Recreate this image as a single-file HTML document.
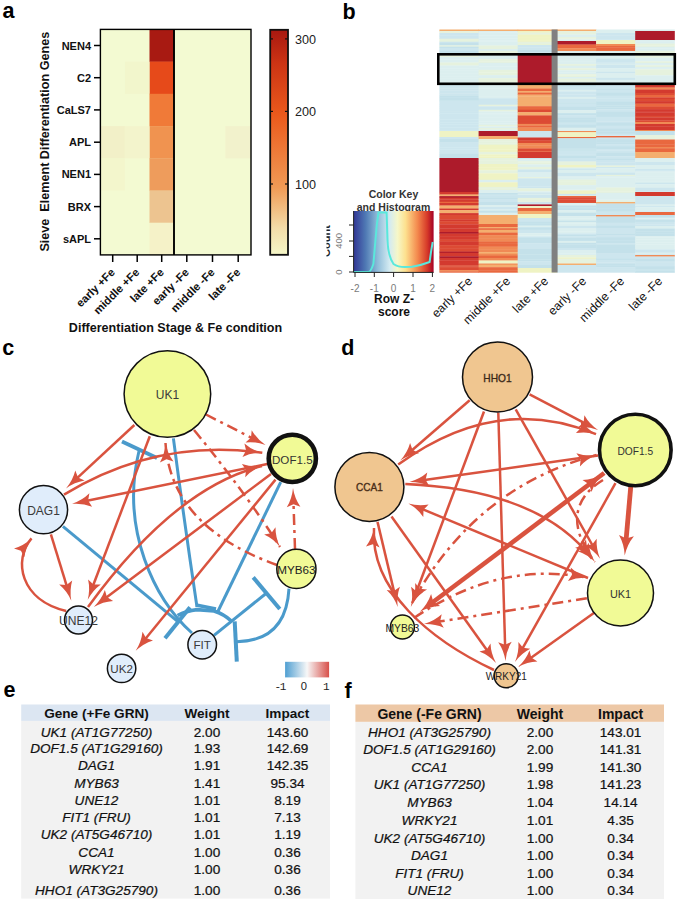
<!DOCTYPE html><html><head><meta charset="utf-8"><style>html,body{margin:0;padding:0;background:#fff;}svg{display:block;}text{font-family:"Liberation Sans",sans-serif;}</style></head><body>
<svg width="685" height="904" viewBox="0 0 685 904">
<defs>
<linearGradient id="cb" x1="0" y1="1" x2="0" y2="0"><stop offset="0" stop-color="#f5f7c8"/><stop offset="0.12" stop-color="#f3dca8"/><stop offset="0.3" stop-color="#f09a55"/><stop offset="0.62" stop-color="#eb5a1c"/><stop offset="0.85" stop-color="#cc3414"/><stop offset="1" stop-color="#a81810"/></linearGradient>
<linearGradient id="zk" x1="0" y1="0" x2="1" y2="0"><stop offset="0" stop-color="#313695"/><stop offset="0.15" stop-color="#4f79b4"/><stop offset="0.3" stop-color="#8fbcd9"/><stop offset="0.45" stop-color="#d4ebf2"/><stop offset="0.55" stop-color="#f6f7c8"/><stop offset="0.65" stop-color="#fde08e"/><stop offset="0.8" stop-color="#f3884d"/><stop offset="0.92" stop-color="#d63a29"/><stop offset="1" stop-color="#a50026"/></linearGradient>
<linearGradient id="lg" x1="0" y1="0" x2="1" y2="0"><stop offset="0" stop-color="#4f9fd2"/><stop offset="0.5" stop-color="#f7f7f7"/><stop offset="1" stop-color="#d8504a"/></linearGradient>
<clipPath id="cntclip"><rect x="326.5" y="200" width="20" height="90"/></clipPath>
</defs>
<text x="2.6" y="17.5" font-size="21.5" font-weight="bold" fill="#000">a</text>
<text x="342.4" y="18.5" font-size="21.5" font-weight="bold" fill="#000">b</text>
<text x="2.2" y="355.3" font-size="21.5" font-weight="bold" fill="#000">c</text>
<text x="341.3" y="354.5" font-size="21.5" font-weight="bold" fill="#000">d</text>
<text x="3.4" y="697" font-size="21.5" font-weight="bold" fill="#000">e</text>
<text x="344.6" y="698" font-size="21.5" font-weight="bold" fill="#000">f</text>
<rect x="100.4" y="29.4" width="150.6" height="225.54" fill="#f3fad2"/>
<rect x="149.5" y="29.4" width="24.8" height="32.5" fill="#a81a12"/>
<rect x="149.5" y="61.6" width="24.8" height="32.5" fill="#e64a1a"/>
<rect x="149.5" y="93.8" width="24.8" height="32.5" fill="#f07a38"/>
<rect x="149.5" y="126.1" width="24.8" height="32.5" fill="#f09350"/>
<rect x="149.5" y="158.3" width="24.8" height="32.5" fill="#ee9c5c"/>
<rect x="149.5" y="190.5" width="24.8" height="32.5" fill="#edc490"/>
<rect x="149.5" y="222.7" width="24.8" height="32.5" fill="#f5f2c8"/>
<rect x="100.4" y="126.1" width="24.5" height="32.2" fill="#f2f0c8"/>
<rect x="124.93" y="126.1" width="24.5" height="32.2" fill="#f3f4cc"/>
<rect x="225.3" y="126.1" width="25.7" height="32.2" fill="#f2f2cc"/>
<rect x="124.93" y="61.6" width="24.5" height="32.2" fill="#f2f6cc"/>
<rect x="100.4" y="158.3" width="24.5" height="32.2" fill="#f3f6cc"/>
<rect x="100.4" y="29.4" width="150.6" height="225.5" fill="none" stroke="#000" stroke-width="1.4"/>
<line x1="174.0" y1="29.4" x2="174.0" y2="254.9" stroke="#000" stroke-width="1.9"/>
<line x1="94" y1="45.5" x2="100.4" y2="45.5" stroke="#000" stroke-width="1.5"/>
<text x="91" y="49.5" font-size="11" font-weight="bold" text-anchor="end" fill="#111">NEN4</text>
<line x1="94" y1="77.7" x2="100.4" y2="77.7" stroke="#000" stroke-width="1.5"/>
<text x="91" y="81.7" font-size="11" font-weight="bold" text-anchor="end" fill="#111">C2</text>
<line x1="94" y1="109.9" x2="100.4" y2="109.9" stroke="#000" stroke-width="1.5"/>
<text x="91" y="113.9" font-size="11" font-weight="bold" text-anchor="end" fill="#111">CaLS7</text>
<line x1="94" y1="142.2" x2="100.4" y2="142.2" stroke="#000" stroke-width="1.5"/>
<text x="91" y="146.2" font-size="11" font-weight="bold" text-anchor="end" fill="#111">APL</text>
<line x1="94" y1="174.4" x2="100.4" y2="174.4" stroke="#000" stroke-width="1.5"/>
<text x="91" y="178.4" font-size="11" font-weight="bold" text-anchor="end" fill="#111">NEN1</text>
<line x1="94" y1="206.6" x2="100.4" y2="206.6" stroke="#000" stroke-width="1.5"/>
<text x="91" y="210.6" font-size="11" font-weight="bold" text-anchor="end" fill="#111">BRX</text>
<line x1="94" y1="238.8" x2="100.4" y2="238.8" stroke="#000" stroke-width="1.5"/>
<text x="91" y="242.8" font-size="11" font-weight="bold" text-anchor="end" fill="#111">sAPL</text>
<line x1="112.7" y1="254.9" x2="112.7" y2="262" stroke="#000" stroke-width="1.5"/>
<text transform="translate(115.7,273) rotate(-45)" font-size="11.3" font-weight="bold" text-anchor="end" fill="#111">early +Fe</text>
<line x1="137.2" y1="254.9" x2="137.2" y2="262" stroke="#000" stroke-width="1.5"/>
<text transform="translate(140.2,273) rotate(-45)" font-size="11.3" font-weight="bold" text-anchor="end" fill="#111">middle +Fe</text>
<line x1="161.7" y1="254.9" x2="161.7" y2="262" stroke="#000" stroke-width="1.5"/>
<text transform="translate(164.7,273) rotate(-45)" font-size="11.3" font-weight="bold" text-anchor="end" fill="#111">late +Fe</text>
<line x1="186.8" y1="254.9" x2="186.8" y2="262" stroke="#000" stroke-width="1.5"/>
<text transform="translate(189.8,273) rotate(-45)" font-size="11.3" font-weight="bold" text-anchor="end" fill="#111">early -Fe</text>
<line x1="212.5" y1="254.9" x2="212.5" y2="262" stroke="#000" stroke-width="1.5"/>
<text transform="translate(215.5,273) rotate(-45)" font-size="11.3" font-weight="bold" text-anchor="end" fill="#111">middle -Fe</text>
<line x1="238.2" y1="254.9" x2="238.2" y2="262" stroke="#000" stroke-width="1.5"/>
<text transform="translate(241.2,273) rotate(-45)" font-size="11.3" font-weight="bold" text-anchor="end" fill="#111">late -Fe</text>
<text transform="translate(49,141.7) rotate(-90)" style="white-space:pre" font-size="12.6" font-weight="bold" text-anchor="middle" fill="#111">Sieve  Element Differentiation Genes</text>
<text x="175.5" y="332.3" font-size="12.55" font-weight="bold" text-anchor="middle" fill="#111">Differentiation Stage &amp; Fe condition</text>
<rect x="270.2" y="29.8" width="17.8" height="225" fill="url(#cb)" stroke="#111" stroke-width="1.8"/>
<line x1="270" y1="38.9" x2="273" y2="38.9" stroke="#111" stroke-width="1.2"/><line x1="285" y1="38.9" x2="288" y2="38.9" stroke="#111" stroke-width="1.2"/>
<text x="295" y="43.8" font-size="12.6" fill="#222">300</text>
<line x1="270" y1="111.4" x2="273" y2="111.4" stroke="#111" stroke-width="1.2"/><line x1="285" y1="111.4" x2="288" y2="111.4" stroke="#111" stroke-width="1.2"/>
<text x="295" y="116.3" font-size="12.6" fill="#222">200</text>
<line x1="270" y1="184" x2="273" y2="184" stroke="#111" stroke-width="1.2"/><line x1="285" y1="184" x2="288" y2="184" stroke="#111" stroke-width="1.2"/>
<text x="295" y="188.9" font-size="12.6" fill="#222">100</text>
<rect x="439.4" y="29.5" width="39.6" height="1.8" fill="#f4ae6f"/>
<rect x="439.4" y="31.0" width="39.6" height="2.3" fill="#e6f2de"/>
<rect x="439.4" y="33.0" width="39.6" height="2.8" fill="#cde6ee"/>
<rect x="439.4" y="35.5" width="39.6" height="1.5" fill="#cde6ee"/>
<rect x="439.4" y="36.7" width="39.6" height="2.3" fill="#cde6ee"/>
<rect x="439.4" y="38.7" width="39.6" height="3.3" fill="#e6f2de"/>
<rect x="439.4" y="41.7" width="39.6" height="1.5" fill="#cde6ee"/>
<rect x="439.4" y="42.9" width="39.6" height="2.8" fill="#c4e1ea"/>
<rect x="439.4" y="45.4" width="39.6" height="1.5" fill="#e6f2de"/>
<rect x="439.4" y="46.6" width="39.6" height="1.5" fill="#c4e1ea"/>
<rect x="439.4" y="47.8" width="39.6" height="1.5" fill="#cde6ee"/>
<rect x="439.4" y="49.0" width="39.6" height="1.9" fill="#cde6ee"/>
<rect x="439.4" y="50.6" width="39.6" height="2.7" fill="#c4e1ea"/>
<rect x="439.4" y="53.0" width="39.6" height="1.5" fill="#dcefef"/>
<rect x="439.4" y="54.2" width="39.6" height="1.5" fill="#dcefef"/>
<rect x="439.4" y="55.4" width="39.6" height="1.9" fill="#e6f2de"/>
<rect x="439.4" y="57.0" width="39.6" height="2.8" fill="#dcefef"/>
<rect x="439.4" y="59.5" width="39.6" height="3.3" fill="#dcefef"/>
<rect x="439.4" y="62.5" width="39.6" height="3.3" fill="#e6f2de"/>
<rect x="439.4" y="65.5" width="39.6" height="3.3" fill="#dcefef"/>
<rect x="439.4" y="68.5" width="39.6" height="1.9" fill="#dcefef"/>
<rect x="439.4" y="70.1" width="39.6" height="3.3" fill="#dcefef"/>
<rect x="439.4" y="73.1" width="39.6" height="3.8" fill="#dcefef"/>
<rect x="439.4" y="76.6" width="39.6" height="2.3" fill="#dcefef"/>
<rect x="439.4" y="78.6" width="39.6" height="3.3" fill="#dcefef"/>
<rect x="439.4" y="81.6" width="39.6" height="1.5" fill="#dcefef"/>
<rect x="439.4" y="82.8" width="39.6" height="1.5" fill="#dcefef"/>
<rect x="439.4" y="84.0" width="39.6" height="1.3" fill="#e6f2de"/>
<rect x="439.4" y="85.0" width="39.6" height="3.8" fill="#cde6ee"/>
<rect x="439.4" y="88.5" width="39.6" height="2.3" fill="#cde6ee"/>
<rect x="439.4" y="90.5" width="39.6" height="3.3" fill="#cde6ee"/>
<rect x="439.4" y="93.5" width="39.6" height="2.3" fill="#cde6ee"/>
<rect x="439.4" y="95.5" width="39.6" height="1.9" fill="#c4e1ea"/>
<rect x="439.4" y="97.1" width="39.6" height="3.8" fill="#c4e1ea"/>
<rect x="439.4" y="100.6" width="39.6" height="1.5" fill="#cde6ee"/>
<rect x="439.4" y="101.8" width="39.6" height="3.3" fill="#cde6ee"/>
<rect x="439.4" y="104.8" width="39.6" height="2.3" fill="#cde6ee"/>
<rect x="439.4" y="106.8" width="39.6" height="2.3" fill="#cde6ee"/>
<rect x="439.4" y="108.8" width="39.6" height="1.5" fill="#cde6ee"/>
<rect x="439.4" y="110.0" width="39.6" height="1.9" fill="#cde6ee"/>
<rect x="439.4" y="111.6" width="39.6" height="1.9" fill="#cde6ee"/>
<rect x="439.4" y="113.2" width="39.6" height="2.8" fill="#cde6ee"/>
<rect x="439.4" y="115.7" width="39.6" height="3.8" fill="#cde6ee"/>
<rect x="439.4" y="119.2" width="39.6" height="3.3" fill="#cde6ee"/>
<rect x="439.4" y="122.2" width="39.6" height="2.3" fill="#cde6ee"/>
<rect x="439.4" y="124.2" width="39.6" height="3.3" fill="#cde6ee"/>
<rect x="439.4" y="127.2" width="39.6" height="3.3" fill="#cde6ee"/>
<rect x="439.4" y="130.2" width="39.6" height="1.1" fill="#cde6ee"/>
<rect x="439.4" y="131" width="39.6" height="6.3" fill="#eff3c4"/>
<rect x="439.4" y="137.0" width="39.6" height="2.3" fill="#cde6ee"/>
<rect x="439.4" y="139.0" width="39.6" height="3.8" fill="#c4e1ea"/>
<rect x="439.4" y="142.5" width="39.6" height="1.5" fill="#cde6ee"/>
<rect x="439.4" y="143.7" width="39.6" height="3.8" fill="#cde6ee"/>
<rect x="439.4" y="147.2" width="39.6" height="2.3" fill="#cde6ee"/>
<rect x="439.4" y="149.2" width="39.6" height="3.8" fill="#cde6ee"/>
<rect x="439.4" y="152.7" width="39.6" height="1.5" fill="#cde6ee"/>
<rect x="439.4" y="153.9" width="39.6" height="2.3" fill="#c4e1ea"/>
<rect x="439.4" y="155.9" width="39.6" height="2.4" fill="#c4e1ea"/>
<rect x="439.4" y="158" width="39.6" height="34.3" fill="#ad1b2b"/>
<rect x="439.4" y="192.0" width="39.6" height="2.8" fill="#d33a2f"/>
<rect x="439.4" y="194.5" width="39.6" height="1.9" fill="#f4ae6f"/>
<rect x="439.4" y="196.1" width="39.6" height="1.9" fill="#ad1b2b"/>
<rect x="439.4" y="197.7" width="39.6" height="1.9" fill="#d33a2f"/>
<rect x="439.4" y="199.3" width="39.6" height="2.8" fill="#d33a2f"/>
<rect x="439.4" y="201.8" width="39.6" height="1.5" fill="#e9683f"/>
<rect x="439.4" y="203.0" width="39.6" height="2.8" fill="#d33a2f"/>
<rect x="439.4" y="205.5" width="39.6" height="3.3" fill="#f4ae6f"/>
<rect x="439.4" y="208.5" width="39.6" height="1.9" fill="#d33a2f"/>
<rect x="439.4" y="210.1" width="39.6" height="3.3" fill="#f4ae6f"/>
<rect x="439.4" y="213.1" width="39.6" height="2.2" fill="#d33a2f"/>
<rect x="439.4" y="215.0" width="39.6" height="2.3" fill="#dc4b34"/>
<rect x="439.4" y="217.0" width="39.6" height="2.8" fill="#dc4b34"/>
<rect x="439.4" y="219.5" width="39.6" height="1.9" fill="#d33a2f"/>
<rect x="439.4" y="221.1" width="39.6" height="1.9" fill="#dc4b34"/>
<rect x="439.4" y="222.7" width="39.6" height="1.9" fill="#dc4b34"/>
<rect x="439.4" y="224.3" width="39.6" height="1.9" fill="#d33a2f"/>
<rect x="439.4" y="225.9" width="39.6" height="2.8" fill="#d33a2f"/>
<rect x="439.4" y="228.4" width="39.6" height="1.9" fill="#d33a2f"/>
<rect x="439.4" y="230.0" width="39.6" height="2.3" fill="#d33a2f"/>
<rect x="439.4" y="232.0" width="39.6" height="1.9" fill="#ad1b2b"/>
<rect x="439.4" y="233.6" width="39.6" height="3.3" fill="#d33a2f"/>
<rect x="439.4" y="236.6" width="39.6" height="3.3" fill="#d33a2f"/>
<rect x="439.4" y="239.6" width="39.6" height="2.3" fill="#dc4b34"/>
<rect x="439.4" y="241.6" width="39.6" height="3.8" fill="#d33a2f"/>
<rect x="439.4" y="245.1" width="39.6" height="3.3" fill="#dc4b34"/>
<rect x="439.4" y="248.1" width="39.6" height="3.8" fill="#dc4b34"/>
<rect x="439.4" y="251.6" width="39.6" height="1.5" fill="#ad1b2b"/>
<rect x="439.4" y="252.8" width="39.6" height="3.8" fill="#d33a2f"/>
<rect x="439.4" y="256.3" width="39.6" height="2.0" fill="#ad1b2b"/>
<rect x="439.4" y="258.0" width="39.6" height="2.8" fill="#d33a2f"/>
<rect x="439.4" y="260.5" width="39.6" height="1.5" fill="#d33a2f"/>
<rect x="439.4" y="261.7" width="39.6" height="3.8" fill="#d33a2f"/>
<rect x="439.4" y="265.2" width="39.6" height="1.5" fill="#dc4b34"/>
<rect x="439.4" y="266.4" width="39.6" height="1.5" fill="#dc4b34"/>
<rect x="439.4" y="267.6" width="39.6" height="2.8" fill="#dc4b34"/>
<rect x="439.4" y="270.1" width="39.6" height="1.5" fill="#f08a55"/>
<rect x="439.4" y="271.3" width="39.6" height="1.4" fill="#e9683f"/>
<rect x="478.6" y="29.5" width="39.6" height="1.8" fill="#f4ae6f"/>
<rect x="478.6" y="31.0" width="39.6" height="1.5" fill="#dcefef"/>
<rect x="478.6" y="32.2" width="39.6" height="3.3" fill="#dcefef"/>
<rect x="478.6" y="35.2" width="39.6" height="3.3" fill="#dcefef"/>
<rect x="478.6" y="38.2" width="39.6" height="2.3" fill="#dcefef"/>
<rect x="478.6" y="40.2" width="39.6" height="1.5" fill="#dcefef"/>
<rect x="478.6" y="41.4" width="39.6" height="1.9" fill="#dcefef"/>
<rect x="478.6" y="43.0" width="39.6" height="2.8" fill="#dcefef"/>
<rect x="478.6" y="45.5" width="39.6" height="3.8" fill="#e6f2de"/>
<rect x="478.6" y="49.0" width="39.6" height="2.3" fill="#dcefef"/>
<rect x="478.6" y="51.0" width="39.6" height="2.3" fill="#e6f2de"/>
<rect x="478.6" y="53.0" width="39.6" height="1.5" fill="#e6f2de"/>
<rect x="478.6" y="54.2" width="39.6" height="2.8" fill="#dcefef"/>
<rect x="478.6" y="56.7" width="39.6" height="2.8" fill="#dcefef"/>
<rect x="478.6" y="59.2" width="39.6" height="2.3" fill="#e6f2de"/>
<rect x="478.6" y="61.2" width="39.6" height="1.9" fill="#e6f2de"/>
<rect x="478.6" y="62.8" width="39.6" height="3.8" fill="#dcefef"/>
<rect x="478.6" y="66.3" width="39.6" height="3.8" fill="#dcefef"/>
<rect x="478.6" y="69.8" width="39.6" height="2.8" fill="#e6f2de"/>
<rect x="478.6" y="72.3" width="39.6" height="1.9" fill="#e6f2de"/>
<rect x="478.6" y="73.9" width="39.6" height="1.5" fill="#e6f2de"/>
<rect x="478.6" y="75.1" width="39.6" height="3.3" fill="#dcefef"/>
<rect x="478.6" y="78.1" width="39.6" height="1.9" fill="#e6f2de"/>
<rect x="478.6" y="79.7" width="39.6" height="3.3" fill="#e6f2de"/>
<rect x="478.6" y="82.7" width="39.6" height="2.6" fill="#dcefef"/>
<rect x="478.6" y="85.0" width="39.6" height="3.8" fill="#dcefef"/>
<rect x="478.6" y="88.5" width="39.6" height="3.8" fill="#dcefef"/>
<rect x="478.6" y="92.0" width="39.6" height="3.3" fill="#dcefef"/>
<rect x="478.6" y="95.0" width="39.6" height="1.9" fill="#dcefef"/>
<rect x="478.6" y="96.6" width="39.6" height="1.9" fill="#dcefef"/>
<rect x="478.6" y="98.2" width="39.6" height="3.8" fill="#cde6ee"/>
<rect x="478.6" y="101.7" width="39.6" height="3.3" fill="#cde6ee"/>
<rect x="478.6" y="104.7" width="39.6" height="1.9" fill="#e6f2de"/>
<rect x="478.6" y="106.3" width="39.6" height="3.8" fill="#cde6ee"/>
<rect x="478.6" y="109.8" width="39.6" height="1.9" fill="#e6f2de"/>
<rect x="478.6" y="111.4" width="39.6" height="2.3" fill="#dcefef"/>
<rect x="478.6" y="113.4" width="39.6" height="1.5" fill="#dcefef"/>
<rect x="478.6" y="114.6" width="39.6" height="2.8" fill="#dcefef"/>
<rect x="478.6" y="117.1" width="39.6" height="1.9" fill="#dcefef"/>
<rect x="478.6" y="118.7" width="39.6" height="2.8" fill="#dcefef"/>
<rect x="478.6" y="121.2" width="39.6" height="2.3" fill="#dcefef"/>
<rect x="478.6" y="123.2" width="39.6" height="1.9" fill="#dcefef"/>
<rect x="478.6" y="124.8" width="39.6" height="1.9" fill="#e6f2de"/>
<rect x="478.6" y="126.4" width="39.6" height="1.9" fill="#dcefef"/>
<rect x="478.6" y="128.0" width="39.6" height="1.9" fill="#e6f2de"/>
<rect x="478.6" y="129.6" width="39.6" height="1.7" fill="#dcefef"/>
<rect x="478.6" y="131" width="39.6" height="5.3" fill="#ad1b2b"/>
<rect x="478.6" y="136" width="39.6" height="3.3" fill="#f4ae6f"/>
<rect x="478.6" y="139.0" width="39.6" height="2.8" fill="#e6f2de"/>
<rect x="478.6" y="141.5" width="39.6" height="2.3" fill="#e6f2de"/>
<rect x="478.6" y="143.5" width="39.6" height="1.5" fill="#e6f2de"/>
<rect x="478.6" y="144.7" width="39.6" height="1.5" fill="#eff3c4"/>
<rect x="478.6" y="145.9" width="39.6" height="3.8" fill="#eff3c4"/>
<rect x="478.6" y="149.4" width="39.6" height="2.8" fill="#eff3c4"/>
<rect x="478.6" y="151.9" width="39.6" height="2.8" fill="#e6f2de"/>
<rect x="478.6" y="154.4" width="39.6" height="2.3" fill="#eff3c4"/>
<rect x="478.6" y="156.4" width="39.6" height="1.9" fill="#eff3c4"/>
<rect x="478.6" y="158.0" width="39.6" height="2.8" fill="#e6f2de"/>
<rect x="478.6" y="160.5" width="39.6" height="3.8" fill="#e6f2de"/>
<rect x="478.6" y="164.0" width="39.6" height="3.8" fill="#eff3c4"/>
<rect x="478.6" y="167.5" width="39.6" height="1.9" fill="#eff3c4"/>
<rect x="478.6" y="169.1" width="39.6" height="1.5" fill="#eff3c4"/>
<rect x="478.6" y="170.3" width="39.6" height="3.3" fill="#e6f2de"/>
<rect x="478.6" y="173.3" width="39.6" height="3.8" fill="#eff3c4"/>
<rect x="478.6" y="176.8" width="39.6" height="3.3" fill="#eff3c4"/>
<rect x="478.6" y="179.8" width="39.6" height="2.8" fill="#dcefef"/>
<rect x="478.6" y="182.3" width="39.6" height="1.9" fill="#eff3c4"/>
<rect x="478.6" y="183.9" width="39.6" height="3.3" fill="#eff3c4"/>
<rect x="478.6" y="186.9" width="39.6" height="1.5" fill="#e6f2de"/>
<rect x="478.6" y="188.1" width="39.6" height="2.2" fill="#e6f2de"/>
<rect x="478.6" y="190.0" width="39.6" height="3.3" fill="#dcefef"/>
<rect x="478.6" y="193.0" width="39.6" height="1.9" fill="#c4e1ea"/>
<rect x="478.6" y="194.6" width="39.6" height="1.9" fill="#cde6ee"/>
<rect x="478.6" y="196.2" width="39.6" height="1.5" fill="#c4e1ea"/>
<rect x="478.6" y="197.4" width="39.6" height="1.9" fill="#c4e1ea"/>
<rect x="478.6" y="199.0" width="39.6" height="3.3" fill="#cde6ee"/>
<rect x="478.6" y="202.0" width="39.6" height="3.3" fill="#c4e1ea"/>
<rect x="478.6" y="205.0" width="39.6" height="2.3" fill="#dcefef"/>
<rect x="478.6" y="207.0" width="39.6" height="2.8" fill="#cde6ee"/>
<rect x="478.6" y="209.5" width="39.6" height="1.5" fill="#dcefef"/>
<rect x="478.6" y="210.7" width="39.6" height="2.3" fill="#c4e1ea"/>
<rect x="478.6" y="212.7" width="39.6" height="2.6" fill="#dcefef"/>
<rect x="478.6" y="215.0" width="39.6" height="3.3" fill="#f4ae6f"/>
<rect x="478.6" y="218.0" width="39.6" height="3.3" fill="#f4ae6f"/>
<rect x="478.6" y="221.0" width="39.6" height="3.3" fill="#f4ae6f"/>
<rect x="478.6" y="224.0" width="39.6" height="3.3" fill="#e9683f"/>
<rect x="478.6" y="227.0" width="39.6" height="1.5" fill="#f4ae6f"/>
<rect x="478.6" y="228.2" width="39.6" height="1.9" fill="#e9683f"/>
<rect x="478.6" y="229.8" width="39.6" height="1.5" fill="#f4ae6f"/>
<rect x="478.6" y="231.0" width="39.6" height="1.9" fill="#f4ae6f"/>
<rect x="478.6" y="232.6" width="39.6" height="2.8" fill="#e9683f"/>
<rect x="478.6" y="235.1" width="39.6" height="3.8" fill="#f08a55"/>
<rect x="478.6" y="238.6" width="39.6" height="3.3" fill="#f08a55"/>
<rect x="478.6" y="241.6" width="39.6" height="2.3" fill="#e9683f"/>
<rect x="478.6" y="243.6" width="39.6" height="3.3" fill="#e9683f"/>
<rect x="478.6" y="246.6" width="39.6" height="2.8" fill="#f08a55"/>
<rect x="478.6" y="249.1" width="39.6" height="3.3" fill="#f08a55"/>
<rect x="478.6" y="252.1" width="39.6" height="1.9" fill="#f4ae6f"/>
<rect x="478.6" y="253.7" width="39.6" height="2.3" fill="#f08a55"/>
<rect x="478.6" y="255.7" width="39.6" height="1.5" fill="#e9683f"/>
<rect x="478.6" y="256.9" width="39.6" height="1.4" fill="#e9683f"/>
<rect x="478.6" y="258" width="39.6" height="2.8" fill="#f08a55"/>
<rect x="478.6" y="260.5" width="39.6" height="3.3" fill="#eff3c4"/>
<rect x="478.6" y="263.5" width="39.6" height="1.5" fill="#f08a55"/>
<rect x="478.6" y="264.7" width="39.6" height="2.8" fill="#f4ae6f"/>
<rect x="478.6" y="267.2" width="39.6" height="3.3" fill="#e9683f"/>
<rect x="478.6" y="270.2" width="39.6" height="2.5" fill="#e9683f"/>
<rect x="517.7" y="29.5" width="39.6" height="1.8" fill="#f4ae6f"/>
<rect x="517.7" y="31.0" width="39.6" height="1.9" fill="#eff3c4"/>
<rect x="517.7" y="32.6" width="39.6" height="2.3" fill="#e6f2de"/>
<rect x="517.7" y="34.6" width="39.6" height="3.3" fill="#eff3c4"/>
<rect x="517.7" y="37.6" width="39.6" height="2.8" fill="#eff3c4"/>
<rect x="517.7" y="40.1" width="39.6" height="1.9" fill="#eff3c4"/>
<rect x="517.7" y="41.7" width="39.6" height="3.3" fill="#e6f2de"/>
<rect x="517.7" y="44.7" width="39.6" height="0.6" fill="#eff3c4"/>
<rect x="517.7" y="45.0" width="39.6" height="2.8" fill="#cde6ee"/>
<rect x="517.7" y="47.5" width="39.6" height="2.8" fill="#cde6ee"/>
<rect x="517.7" y="50.0" width="39.6" height="2.8" fill="#c4e1ea"/>
<rect x="517.7" y="52.5" width="39.6" height="0.8" fill="#cde6ee"/>
<rect x="517.7" y="53" width="39.6" height="32.3" fill="#ad1b2b"/>
<rect x="517.7" y="85.0" width="39.6" height="3.8" fill="#f4ae6f"/>
<rect x="517.7" y="88.5" width="39.6" height="2.8" fill="#e9683f"/>
<rect x="517.7" y="91.0" width="39.6" height="1.9" fill="#f4ae6f"/>
<rect x="517.7" y="92.6" width="39.6" height="2.3" fill="#e9683f"/>
<rect x="517.7" y="94.6" width="39.6" height="1.9" fill="#f4ae6f"/>
<rect x="517.7" y="96.2" width="39.6" height="3.8" fill="#f4ae6f"/>
<rect x="517.7" y="99.7" width="39.6" height="2.3" fill="#f4ae6f"/>
<rect x="517.7" y="101.7" width="39.6" height="2.3" fill="#f4ae6f"/>
<rect x="517.7" y="103.7" width="39.6" height="2.8" fill="#f4ae6f"/>
<rect x="517.7" y="106.2" width="39.6" height="3.8" fill="#e9683f"/>
<rect x="517.7" y="109.7" width="39.6" height="2.8" fill="#dc4b34"/>
<rect x="517.7" y="112.2" width="39.6" height="1.9" fill="#f4ae6f"/>
<rect x="517.7" y="113.8" width="39.6" height="1.9" fill="#f4ae6f"/>
<rect x="517.7" y="115.4" width="39.6" height="3.8" fill="#dc4b34"/>
<rect x="517.7" y="118.9" width="39.6" height="3.3" fill="#dc4b34"/>
<rect x="517.7" y="121.9" width="39.6" height="2.3" fill="#dc4b34"/>
<rect x="517.7" y="123.9" width="39.6" height="1.9" fill="#f08a55"/>
<rect x="517.7" y="125.5" width="39.6" height="2.3" fill="#e9683f"/>
<rect x="517.7" y="127.5" width="39.6" height="3.8" fill="#f08a55"/>
<rect x="517.7" y="131.0" width="39.6" height="0.3" fill="#f08a55"/>
<rect x="517.7" y="131" width="39.6" height="6.8" fill="#cde6ee"/>
<rect x="517.7" y="137.5" width="39.6" height="3.3" fill="#d33a2f"/>
<rect x="517.7" y="140.5" width="39.6" height="2.8" fill="#dc4b34"/>
<rect x="517.7" y="143.0" width="39.6" height="2.8" fill="#f08a55"/>
<rect x="517.7" y="145.5" width="39.6" height="3.3" fill="#f08a55"/>
<rect x="517.7" y="148.5" width="39.6" height="3.3" fill="#dc4b34"/>
<rect x="517.7" y="151.5" width="39.6" height="0.8" fill="#e9683f"/>
<rect x="517.7" y="152" width="39.6" height="6.3" fill="#d33a2f"/>
<rect x="517.7" y="158.0" width="39.6" height="1.5" fill="#cde6ee"/>
<rect x="517.7" y="159.2" width="39.6" height="2.3" fill="#dcefef"/>
<rect x="517.7" y="161.2" width="39.6" height="1.5" fill="#e6f2de"/>
<rect x="517.7" y="162.4" width="39.6" height="2.3" fill="#e6f2de"/>
<rect x="517.7" y="164.4" width="39.6" height="2.8" fill="#dcefef"/>
<rect x="517.7" y="166.9" width="39.6" height="2.8" fill="#e6f2de"/>
<rect x="517.7" y="169.4" width="39.6" height="3.3" fill="#cde6ee"/>
<rect x="517.7" y="172.4" width="39.6" height="3.8" fill="#dcefef"/>
<rect x="517.7" y="175.9" width="39.6" height="1.5" fill="#dcefef"/>
<rect x="517.7" y="177.1" width="39.6" height="1.5" fill="#e6f2de"/>
<rect x="517.7" y="178.3" width="39.6" height="2.8" fill="#cde6ee"/>
<rect x="517.7" y="180.8" width="39.6" height="2.3" fill="#cde6ee"/>
<rect x="517.7" y="182.8" width="39.6" height="3.8" fill="#cde6ee"/>
<rect x="517.7" y="186.3" width="39.6" height="2.3" fill="#cde6ee"/>
<rect x="517.7" y="188.3" width="39.6" height="3.3" fill="#e6f2de"/>
<rect x="517.7" y="191.3" width="39.6" height="1.5" fill="#dcefef"/>
<rect x="517.7" y="192.5" width="39.6" height="1.5" fill="#cde6ee"/>
<rect x="517.7" y="193.7" width="39.6" height="1.5" fill="#dcefef"/>
<rect x="517.7" y="194.9" width="39.6" height="3.3" fill="#cde6ee"/>
<rect x="517.7" y="197.9" width="39.6" height="2.3" fill="#e6f2de"/>
<rect x="517.7" y="199.9" width="39.6" height="1.5" fill="#e6f2de"/>
<rect x="517.7" y="201.1" width="39.6" height="1.2" fill="#e6f2de"/>
<rect x="517.7" y="202" width="39.6" height="2.7" fill="#cde6ee"/>
<rect x="517.7" y="204.4" width="39.6" height="1.9" fill="#ad1b2b"/>
<rect x="517.7" y="206" width="39.6" height="2.3" fill="#eff3c4"/>
<rect x="517.7" y="208" width="39.6" height="3.3" fill="#e9683f"/>
<rect x="517.7" y="211" width="39.6" height="3.3" fill="#f4ae6f"/>
<rect x="517.7" y="214" width="39.6" height="4.3" fill="#eff3c4"/>
<rect x="517.7" y="218.0" width="39.6" height="2.3" fill="#cde6ee"/>
<rect x="517.7" y="220.0" width="39.6" height="1.9" fill="#cde6ee"/>
<rect x="517.7" y="221.6" width="39.6" height="2.3" fill="#c4e1ea"/>
<rect x="517.7" y="223.6" width="39.6" height="2.3" fill="#c4e1ea"/>
<rect x="517.7" y="225.6" width="39.6" height="1.9" fill="#dcefef"/>
<rect x="517.7" y="227.2" width="39.6" height="2.8" fill="#c4e1ea"/>
<rect x="517.7" y="229.7" width="39.6" height="3.8" fill="#cde6ee"/>
<rect x="517.7" y="233.2" width="39.6" height="2.3" fill="#dcefef"/>
<rect x="517.7" y="235.2" width="39.6" height="1.5" fill="#dcefef"/>
<rect x="517.7" y="236.4" width="39.6" height="1.5" fill="#cde6ee"/>
<rect x="517.7" y="237.6" width="39.6" height="1.5" fill="#c4e1ea"/>
<rect x="517.7" y="238.8" width="39.6" height="3.3" fill="#c4e1ea"/>
<rect x="517.7" y="241.8" width="39.6" height="1.9" fill="#c4e1ea"/>
<rect x="517.7" y="243.4" width="39.6" height="2.8" fill="#cde6ee"/>
<rect x="517.7" y="245.9" width="39.6" height="2.8" fill="#cde6ee"/>
<rect x="517.7" y="248.4" width="39.6" height="3.8" fill="#c4e1ea"/>
<rect x="517.7" y="251.9" width="39.6" height="2.8" fill="#c4e1ea"/>
<rect x="517.7" y="254.4" width="39.6" height="2.8" fill="#c4e1ea"/>
<rect x="517.7" y="256.9" width="39.6" height="2.8" fill="#c4e1ea"/>
<rect x="517.7" y="259.4" width="39.6" height="2.3" fill="#c4e1ea"/>
<rect x="517.7" y="261.4" width="39.6" height="1.9" fill="#cde6ee"/>
<rect x="517.7" y="263.0" width="39.6" height="2.3" fill="#cde6ee"/>
<rect x="517.7" y="265.0" width="39.6" height="3.3" fill="#c4e1ea"/>
<rect x="517.7" y="268" width="39.6" height="4.7" fill="#eff3c4"/>
<rect x="556.9" y="29.5" width="39.6" height="1.8" fill="#f4ae6f"/>
<rect x="556.9" y="31.0" width="39.6" height="3.8" fill="#e6f2de"/>
<rect x="556.9" y="34.5" width="39.6" height="2.8" fill="#dcefef"/>
<rect x="556.9" y="37.0" width="39.6" height="1.5" fill="#e6f2de"/>
<rect x="556.9" y="38.2" width="39.6" height="1.5" fill="#e6f2de"/>
<rect x="556.9" y="39.4" width="39.6" height="1.9" fill="#dcefef"/>
<rect x="556.9" y="41" width="39.6" height="3.8" fill="#ad1b2b"/>
<rect x="556.9" y="44.5" width="39.6" height="2.8" fill="#e9683f"/>
<rect x="556.9" y="47.0" width="39.6" height="1.5" fill="#e9683f"/>
<rect x="556.9" y="48.2" width="39.6" height="3.1" fill="#f08a55"/>
<rect x="556.9" y="51" width="39.6" height="2.3" fill="#dcefef"/>
<rect x="556.9" y="53.0" width="39.6" height="3.3" fill="#dcefef"/>
<rect x="556.9" y="56.0" width="39.6" height="2.3" fill="#dcefef"/>
<rect x="556.9" y="58.0" width="39.6" height="1.9" fill="#dcefef"/>
<rect x="556.9" y="59.6" width="39.6" height="2.3" fill="#dcefef"/>
<rect x="556.9" y="61.6" width="39.6" height="2.8" fill="#dcefef"/>
<rect x="556.9" y="64.1" width="39.6" height="1.9" fill="#e6f2de"/>
<rect x="556.9" y="65.7" width="39.6" height="2.8" fill="#dcefef"/>
<rect x="556.9" y="68.2" width="39.6" height="2.3" fill="#e6f2de"/>
<rect x="556.9" y="70.2" width="39.6" height="2.3" fill="#dcefef"/>
<rect x="556.9" y="72.2" width="39.6" height="2.3" fill="#dcefef"/>
<rect x="556.9" y="74.2" width="39.6" height="1.5" fill="#e6f2de"/>
<rect x="556.9" y="75.4" width="39.6" height="1.9" fill="#e6f2de"/>
<rect x="556.9" y="77.0" width="39.6" height="1.9" fill="#dcefef"/>
<rect x="556.9" y="78.6" width="39.6" height="2.3" fill="#e6f2de"/>
<rect x="556.9" y="80.6" width="39.6" height="1.5" fill="#e6f2de"/>
<rect x="556.9" y="81.8" width="39.6" height="2.3" fill="#dcefef"/>
<rect x="556.9" y="83.8" width="39.6" height="1.5" fill="#dcefef"/>
<rect x="556.9" y="85.0" width="39.6" height="1.9" fill="#c4e1ea"/>
<rect x="556.9" y="86.6" width="39.6" height="1.5" fill="#cde6ee"/>
<rect x="556.9" y="87.8" width="39.6" height="2.3" fill="#cde6ee"/>
<rect x="556.9" y="89.8" width="39.6" height="1.9" fill="#dcefef"/>
<rect x="556.9" y="91.4" width="39.6" height="3.3" fill="#cde6ee"/>
<rect x="556.9" y="94.4" width="39.6" height="2.8" fill="#cde6ee"/>
<rect x="556.9" y="96.9" width="39.6" height="2.3" fill="#dcefef"/>
<rect x="556.9" y="98.9" width="39.6" height="3.8" fill="#cde6ee"/>
<rect x="556.9" y="102.4" width="39.6" height="1.5" fill="#c4e1ea"/>
<rect x="556.9" y="103.6" width="39.6" height="3.3" fill="#cde6ee"/>
<rect x="556.9" y="106.6" width="39.6" height="3.8" fill="#c4e1ea"/>
<rect x="556.9" y="110.1" width="39.6" height="3.3" fill="#dcefef"/>
<rect x="556.9" y="113.1" width="39.6" height="2.3" fill="#c4e1ea"/>
<rect x="556.9" y="115.1" width="39.6" height="2.8" fill="#cde6ee"/>
<rect x="556.9" y="117.6" width="39.6" height="2.3" fill="#c4e1ea"/>
<rect x="556.9" y="119.6" width="39.6" height="3.3" fill="#c4e1ea"/>
<rect x="556.9" y="122.6" width="39.6" height="1.9" fill="#cde6ee"/>
<rect x="556.9" y="124.2" width="39.6" height="3.8" fill="#c4e1ea"/>
<rect x="556.9" y="127.7" width="39.6" height="3.6" fill="#dcefef"/>
<rect x="556.9" y="131" width="39.6" height="1.5" fill="#f08a55"/>
<rect x="556.9" y="132.2" width="39.6" height="5.1" fill="#eff3c4"/>
<rect x="556.9" y="137" width="39.6" height="1.5" fill="#e9683f"/>
<rect x="556.9" y="138.2" width="39.6" height="3.8" fill="#c4e1ea"/>
<rect x="556.9" y="141.7" width="39.6" height="3.3" fill="#c4e1ea"/>
<rect x="556.9" y="144.7" width="39.6" height="3.8" fill="#c4e1ea"/>
<rect x="556.9" y="148.2" width="39.6" height="1.5" fill="#c4e1ea"/>
<rect x="556.9" y="149.4" width="39.6" height="1.5" fill="#c4e1ea"/>
<rect x="556.9" y="150.6" width="39.6" height="3.8" fill="#cde6ee"/>
<rect x="556.9" y="154.1" width="39.6" height="1.5" fill="#cde6ee"/>
<rect x="556.9" y="155.3" width="39.6" height="2.8" fill="#c4e1ea"/>
<rect x="556.9" y="157.8" width="39.6" height="0.5" fill="#c4e1ea"/>
<rect x="556.9" y="158.0" width="39.6" height="3.8" fill="#cde6ee"/>
<rect x="556.9" y="161.5" width="39.6" height="3.8" fill="#e6f2de"/>
<rect x="556.9" y="165.0" width="39.6" height="2.8" fill="#eff3c4"/>
<rect x="556.9" y="167.5" width="39.6" height="1.5" fill="#dcefef"/>
<rect x="556.9" y="168.7" width="39.6" height="1.5" fill="#cde6ee"/>
<rect x="556.9" y="169.9" width="39.6" height="3.3" fill="#dcefef"/>
<rect x="556.9" y="172.9" width="39.6" height="3.8" fill="#cde6ee"/>
<rect x="556.9" y="176.4" width="39.6" height="1.5" fill="#dcefef"/>
<rect x="556.9" y="177.6" width="39.6" height="2.3" fill="#dcefef"/>
<rect x="556.9" y="179.6" width="39.6" height="2.3" fill="#e6f2de"/>
<rect x="556.9" y="181.6" width="39.6" height="3.8" fill="#e6f2de"/>
<rect x="556.9" y="185.1" width="39.6" height="1.9" fill="#dcefef"/>
<rect x="556.9" y="186.7" width="39.6" height="2.8" fill="#dcefef"/>
<rect x="556.9" y="189.2" width="39.6" height="1.5" fill="#dcefef"/>
<rect x="556.9" y="190.4" width="39.6" height="3.8" fill="#eff3c4"/>
<rect x="556.9" y="193.9" width="39.6" height="1.5" fill="#cde6ee"/>
<rect x="556.9" y="195.1" width="39.6" height="0.7" fill="#e6f2de"/>
<rect x="556.9" y="195.5" width="39.6" height="0.8" fill="#cde6ee"/>
<rect x="556.9" y="196.0" width="39.6" height="1.5" fill="#e9683f"/>
<rect x="556.9" y="197.2" width="39.6" height="2.3" fill="#dc4b34"/>
<rect x="556.9" y="199.2" width="39.6" height="3.8" fill="#dc4b34"/>
<rect x="556.9" y="202.7" width="39.6" height="0.6" fill="#e9683f"/>
<rect x="556.9" y="203.0" width="39.6" height="1.5" fill="#dcefef"/>
<rect x="556.9" y="204.2" width="39.6" height="1.5" fill="#dcefef"/>
<rect x="556.9" y="205.4" width="39.6" height="2.3" fill="#c4e1ea"/>
<rect x="556.9" y="207.4" width="39.6" height="1.5" fill="#c4e1ea"/>
<rect x="556.9" y="208.6" width="39.6" height="1.9" fill="#c4e1ea"/>
<rect x="556.9" y="210.2" width="39.6" height="2.8" fill="#dcefef"/>
<rect x="556.9" y="212.7" width="39.6" height="3.8" fill="#c4e1ea"/>
<rect x="556.9" y="216.2" width="39.6" height="2.3" fill="#dcefef"/>
<rect x="556.9" y="218.2" width="39.6" height="2.8" fill="#dcefef"/>
<rect x="556.9" y="220.7" width="39.6" height="1.5" fill="#c4e1ea"/>
<rect x="556.9" y="221.9" width="39.6" height="1.9" fill="#dcefef"/>
<rect x="556.9" y="223.5" width="39.6" height="1.5" fill="#dcefef"/>
<rect x="556.9" y="224.7" width="39.6" height="1.5" fill="#dcefef"/>
<rect x="556.9" y="225.9" width="39.6" height="2.8" fill="#cde6ee"/>
<rect x="556.9" y="228.4" width="39.6" height="3.3" fill="#dcefef"/>
<rect x="556.9" y="231.4" width="39.6" height="2.3" fill="#dcefef"/>
<rect x="556.9" y="233.4" width="39.6" height="1.9" fill="#cde6ee"/>
<rect x="556.9" y="235.0" width="39.6" height="1.5" fill="#c4e1ea"/>
<rect x="556.9" y="236.2" width="39.6" height="1.5" fill="#cde6ee"/>
<rect x="556.9" y="237.4" width="39.6" height="3.8" fill="#c4e1ea"/>
<rect x="556.9" y="240.9" width="39.6" height="2.3" fill="#dcefef"/>
<rect x="556.9" y="242.9" width="39.6" height="1.9" fill="#c4e1ea"/>
<rect x="556.9" y="244.5" width="39.6" height="3.8" fill="#c4e1ea"/>
<rect x="556.9" y="248.0" width="39.6" height="2.3" fill="#cde6ee"/>
<rect x="556.9" y="250.0" width="39.6" height="3.8" fill="#dcefef"/>
<rect x="556.9" y="253.5" width="39.6" height="1.8" fill="#dcefef"/>
<rect x="556.9" y="255.0" width="39.6" height="2.8" fill="#e6f2de"/>
<rect x="556.9" y="257.5" width="39.6" height="1.5" fill="#eff3c4"/>
<rect x="556.9" y="258.7" width="39.6" height="1.5" fill="#e6f2de"/>
<rect x="556.9" y="259.9" width="39.6" height="3.8" fill="#e6f2de"/>
<rect x="556.9" y="263.4" width="39.6" height="0.4" fill="#e6f2de"/>
<rect x="556.9" y="263.5" width="39.6" height="1.8" fill="#f4ae6f"/>
<rect x="556.9" y="265" width="39.6" height="7.7" fill="#cde6ee"/>
<rect x="596.1" y="29.5" width="39.6" height="3.8" fill="#dcefef"/>
<rect x="596.1" y="33.0" width="39.6" height="2.8" fill="#cde6ee"/>
<rect x="596.1" y="35.5" width="39.6" height="2.8" fill="#cde6ee"/>
<rect x="596.1" y="38.0" width="39.6" height="1.5" fill="#cde6ee"/>
<rect x="596.1" y="39.2" width="39.6" height="1.1" fill="#cde6ee"/>
<rect x="596.1" y="40" width="39.6" height="4.3" fill="#eff3c4"/>
<rect x="596.1" y="44.0" width="39.6" height="2.3" fill="#f08a55"/>
<rect x="596.1" y="46.0" width="39.6" height="1.5" fill="#e9683f"/>
<rect x="596.1" y="47.2" width="39.6" height="3.8" fill="#e9683f"/>
<rect x="596.1" y="50.7" width="39.6" height="0.6" fill="#f08a55"/>
<rect x="596.1" y="51" width="39.6" height="2.3" fill="#dcefef"/>
<rect x="596.1" y="53.0" width="39.6" height="2.3" fill="#cde6ee"/>
<rect x="596.1" y="55.0" width="39.6" height="1.5" fill="#cde6ee"/>
<rect x="596.1" y="56.2" width="39.6" height="2.8" fill="#dcefef"/>
<rect x="596.1" y="58.7" width="39.6" height="1.5" fill="#cde6ee"/>
<rect x="596.1" y="59.9" width="39.6" height="2.8" fill="#cde6ee"/>
<rect x="596.1" y="62.4" width="39.6" height="1.5" fill="#cde6ee"/>
<rect x="596.1" y="63.6" width="39.6" height="1.5" fill="#dcefef"/>
<rect x="596.1" y="64.8" width="39.6" height="3.8" fill="#cde6ee"/>
<rect x="596.1" y="68.3" width="39.6" height="3.8" fill="#dcefef"/>
<rect x="596.1" y="71.8" width="39.6" height="1.9" fill="#cde6ee"/>
<rect x="596.1" y="73.4" width="39.6" height="2.8" fill="#dcefef"/>
<rect x="596.1" y="75.9" width="39.6" height="2.3" fill="#dcefef"/>
<rect x="596.1" y="77.9" width="39.6" height="2.3" fill="#cde6ee"/>
<rect x="596.1" y="79.9" width="39.6" height="1.5" fill="#dcefef"/>
<rect x="596.1" y="81.1" width="39.6" height="2.8" fill="#dcefef"/>
<rect x="596.1" y="83.6" width="39.6" height="1.7" fill="#dcefef"/>
<rect x="596.1" y="85.0" width="39.6" height="3.8" fill="#cde6ee"/>
<rect x="596.1" y="88.5" width="39.6" height="1.5" fill="#c4e1ea"/>
<rect x="596.1" y="89.7" width="39.6" height="2.8" fill="#cde6ee"/>
<rect x="596.1" y="92.2" width="39.6" height="3.8" fill="#c4e1ea"/>
<rect x="596.1" y="95.7" width="39.6" height="2.8" fill="#cde6ee"/>
<rect x="596.1" y="98.2" width="39.6" height="3.3" fill="#cde6ee"/>
<rect x="596.1" y="101.2" width="39.6" height="1.9" fill="#c4e1ea"/>
<rect x="596.1" y="102.8" width="39.6" height="2.8" fill="#c4e1ea"/>
<rect x="596.1" y="105.3" width="39.6" height="2.3" fill="#c4e1ea"/>
<rect x="596.1" y="107.3" width="39.6" height="2.3" fill="#c4e1ea"/>
<rect x="596.1" y="109.3" width="39.6" height="2.8" fill="#cde6ee"/>
<rect x="596.1" y="111.8" width="39.6" height="2.3" fill="#c4e1ea"/>
<rect x="596.1" y="113.8" width="39.6" height="3.3" fill="#c4e1ea"/>
<rect x="596.1" y="116.8" width="39.6" height="1.5" fill="#cde6ee"/>
<rect x="596.1" y="118.0" width="39.6" height="3.8" fill="#cde6ee"/>
<rect x="596.1" y="121.5" width="39.6" height="1.5" fill="#cde6ee"/>
<rect x="596.1" y="122.7" width="39.6" height="3.3" fill="#c4e1ea"/>
<rect x="596.1" y="125.7" width="39.6" height="3.3" fill="#cde6ee"/>
<rect x="596.1" y="128.7" width="39.6" height="2.8" fill="#c4e1ea"/>
<rect x="596.1" y="131.2" width="39.6" height="2.8" fill="#c4e1ea"/>
<rect x="596.1" y="133.7" width="39.6" height="1.9" fill="#cde6ee"/>
<rect x="596.1" y="135.3" width="39.6" height="1.0" fill="#cde6ee"/>
<rect x="596.1" y="136" width="39.6" height="1.8" fill="#e9683f"/>
<rect x="596.1" y="137.5" width="39.6" height="1.9" fill="#cde6ee"/>
<rect x="596.1" y="139.1" width="39.6" height="3.3" fill="#c4e1ea"/>
<rect x="596.1" y="142.1" width="39.6" height="2.3" fill="#c4e1ea"/>
<rect x="596.1" y="144.1" width="39.6" height="2.3" fill="#cde6ee"/>
<rect x="596.1" y="146.1" width="39.6" height="3.3" fill="#c4e1ea"/>
<rect x="596.1" y="149.1" width="39.6" height="1.5" fill="#cde6ee"/>
<rect x="596.1" y="150.3" width="39.6" height="2.8" fill="#cde6ee"/>
<rect x="596.1" y="152.8" width="39.6" height="3.8" fill="#c4e1ea"/>
<rect x="596.1" y="156.3" width="39.6" height="2.8" fill="#cde6ee"/>
<rect x="596.1" y="158.8" width="39.6" height="1.5" fill="#c4e1ea"/>
<rect x="596.1" y="160.0" width="39.6" height="2.8" fill="#cde6ee"/>
<rect x="596.1" y="162.5" width="39.6" height="3.3" fill="#cde6ee"/>
<rect x="596.1" y="165.5" width="39.6" height="1.9" fill="#e6f2de"/>
<rect x="596.1" y="167.1" width="39.6" height="1.5" fill="#cde6ee"/>
<rect x="596.1" y="168.3" width="39.6" height="1.9" fill="#dcefef"/>
<rect x="596.1" y="169.9" width="39.6" height="2.8" fill="#dcefef"/>
<rect x="596.1" y="172.4" width="39.6" height="2.8" fill="#cde6ee"/>
<rect x="596.1" y="174.9" width="39.6" height="1.5" fill="#e6f2de"/>
<rect x="596.1" y="176.1" width="39.6" height="1.5" fill="#dcefef"/>
<rect x="596.1" y="177.3" width="39.6" height="3.8" fill="#dcefef"/>
<rect x="596.1" y="180.8" width="39.6" height="3.3" fill="#dcefef"/>
<rect x="596.1" y="183.8" width="39.6" height="1.5" fill="#dcefef"/>
<rect x="596.1" y="185.0" width="39.6" height="2.8" fill="#dcefef"/>
<rect x="596.1" y="187.5" width="39.6" height="2.8" fill="#e6f2de"/>
<rect x="596.1" y="190.0" width="39.6" height="1.5" fill="#e6f2de"/>
<rect x="596.1" y="191.2" width="39.6" height="1.9" fill="#e6f2de"/>
<rect x="596.1" y="192.8" width="39.6" height="3.3" fill="#dcefef"/>
<rect x="596.1" y="195.8" width="39.6" height="3.8" fill="#dcefef"/>
<rect x="596.1" y="199.3" width="39.6" height="1.5" fill="#dcefef"/>
<rect x="596.1" y="200.5" width="39.6" height="1.5" fill="#e6f2de"/>
<rect x="596.1" y="201.7" width="39.6" height="0.6" fill="#dcefef"/>
<rect x="596.1" y="202" width="39.6" height="1.8" fill="#f4ae6f"/>
<rect x="596.1" y="203.5" width="39.6" height="3.8" fill="#c4e1ea"/>
<rect x="596.1" y="207.0" width="39.6" height="1.9" fill="#c4e1ea"/>
<rect x="596.1" y="208.6" width="39.6" height="3.3" fill="#c4e1ea"/>
<rect x="596.1" y="211.6" width="39.6" height="3.7" fill="#cde6ee"/>
<rect x="596.1" y="215" width="39.6" height="1.8" fill="#f08a55"/>
<rect x="596.1" y="216.5" width="39.6" height="1.5" fill="#c4e1ea"/>
<rect x="596.1" y="217.7" width="39.6" height="2.3" fill="#c4e1ea"/>
<rect x="596.1" y="219.7" width="39.6" height="3.3" fill="#c4e1ea"/>
<rect x="596.1" y="222.7" width="39.6" height="2.8" fill="#cde6ee"/>
<rect x="596.1" y="225.2" width="39.6" height="1.9" fill="#c4e1ea"/>
<rect x="596.1" y="226.8" width="39.6" height="1.5" fill="#c4e1ea"/>
<rect x="596.1" y="228.0" width="39.6" height="3.3" fill="#cde6ee"/>
<rect x="596.1" y="231.0" width="39.6" height="2.8" fill="#cde6ee"/>
<rect x="596.1" y="233.5" width="39.6" height="2.3" fill="#c4e1ea"/>
<rect x="596.1" y="235.5" width="39.6" height="1.9" fill="#cde6ee"/>
<rect x="596.1" y="237.1" width="39.6" height="3.3" fill="#c4e1ea"/>
<rect x="596.1" y="240.1" width="39.6" height="3.3" fill="#c4e1ea"/>
<rect x="596.1" y="243.1" width="39.6" height="1.5" fill="#cde6ee"/>
<rect x="596.1" y="244.3" width="39.6" height="3.8" fill="#c4e1ea"/>
<rect x="596.1" y="247.8" width="39.6" height="2.3" fill="#c4e1ea"/>
<rect x="596.1" y="249.8" width="39.6" height="1.5" fill="#c4e1ea"/>
<rect x="596.1" y="251.0" width="39.6" height="2.8" fill="#c4e1ea"/>
<rect x="596.1" y="253.5" width="39.6" height="3.8" fill="#cde6ee"/>
<rect x="596.1" y="257.0" width="39.6" height="1.5" fill="#cde6ee"/>
<rect x="596.1" y="258.2" width="39.6" height="1.9" fill="#c4e1ea"/>
<rect x="596.1" y="259.8" width="39.6" height="2.8" fill="#cde6ee"/>
<rect x="596.1" y="262.3" width="39.6" height="1.9" fill="#cde6ee"/>
<rect x="596.1" y="263.9" width="39.6" height="1.5" fill="#c4e1ea"/>
<rect x="596.1" y="265.1" width="39.6" height="2.3" fill="#c4e1ea"/>
<rect x="596.1" y="267.1" width="39.6" height="2.8" fill="#cde6ee"/>
<rect x="596.1" y="269.6" width="39.6" height="3.1" fill="#cde6ee"/>
<rect x="635.2" y="29.5" width="39.6" height="1.8" fill="#dcefef"/>
<rect x="635.2" y="31" width="39.6" height="9.3" fill="#ad1b2b"/>
<rect x="635.2" y="40.0" width="39.6" height="1.9" fill="#dcefef"/>
<rect x="635.2" y="41.6" width="39.6" height="2.3" fill="#dcefef"/>
<rect x="635.2" y="43.6" width="39.6" height="1.9" fill="#e6f2de"/>
<rect x="635.2" y="45.2" width="39.6" height="1.9" fill="#e6f2de"/>
<rect x="635.2" y="46.8" width="39.6" height="1.9" fill="#dcefef"/>
<rect x="635.2" y="48.4" width="39.6" height="2.8" fill="#dcefef"/>
<rect x="635.2" y="50.9" width="39.6" height="2.3" fill="#e6f2de"/>
<rect x="635.2" y="52.9" width="39.6" height="0.4" fill="#e6f2de"/>
<rect x="635.2" y="53.0" width="39.6" height="3.3" fill="#dcefef"/>
<rect x="635.2" y="56.0" width="39.6" height="1.9" fill="#e6f2de"/>
<rect x="635.2" y="57.6" width="39.6" height="2.8" fill="#dcefef"/>
<rect x="635.2" y="60.1" width="39.6" height="1.5" fill="#dcefef"/>
<rect x="635.2" y="61.3" width="39.6" height="1.9" fill="#e6f2de"/>
<rect x="635.2" y="62.9" width="39.6" height="1.5" fill="#dcefef"/>
<rect x="635.2" y="64.1" width="39.6" height="1.5" fill="#dcefef"/>
<rect x="635.2" y="65.3" width="39.6" height="1.9" fill="#e6f2de"/>
<rect x="635.2" y="66.9" width="39.6" height="1.5" fill="#dcefef"/>
<rect x="635.2" y="68.1" width="39.6" height="1.5" fill="#dcefef"/>
<rect x="635.2" y="69.3" width="39.6" height="2.8" fill="#e6f2de"/>
<rect x="635.2" y="71.8" width="39.6" height="3.8" fill="#e6f2de"/>
<rect x="635.2" y="75.3" width="39.6" height="3.8" fill="#dcefef"/>
<rect x="635.2" y="78.8" width="39.6" height="1.5" fill="#dcefef"/>
<rect x="635.2" y="80.0" width="39.6" height="2.3" fill="#dcefef"/>
<rect x="635.2" y="82.0" width="39.6" height="1.9" fill="#dcefef"/>
<rect x="635.2" y="83.6" width="39.6" height="1.7" fill="#dcefef"/>
<rect x="635.2" y="85.0" width="39.6" height="2.8" fill="#d33a2f"/>
<rect x="635.2" y="87.5" width="39.6" height="2.3" fill="#f08a55"/>
<rect x="635.2" y="89.5" width="39.6" height="3.8" fill="#d33a2f"/>
<rect x="635.2" y="93.0" width="39.6" height="2.3" fill="#dc4b34"/>
<rect x="635.2" y="95.0" width="39.6" height="2.8" fill="#e9683f"/>
<rect x="635.2" y="97.5" width="39.6" height="1.5" fill="#d33a2f"/>
<rect x="635.2" y="98.7" width="39.6" height="1.5" fill="#dc4b34"/>
<rect x="635.2" y="99.9" width="39.6" height="1.5" fill="#dc4b34"/>
<rect x="635.2" y="101.1" width="39.6" height="2.8" fill="#d33a2f"/>
<rect x="635.2" y="103.6" width="39.6" height="3.3" fill="#e9683f"/>
<rect x="635.2" y="106.6" width="39.6" height="2.8" fill="#dc4b34"/>
<rect x="635.2" y="109.1" width="39.6" height="2.3" fill="#d33a2f"/>
<rect x="635.2" y="111.1" width="39.6" height="1.5" fill="#d33a2f"/>
<rect x="635.2" y="112.3" width="39.6" height="3.8" fill="#d33a2f"/>
<rect x="635.2" y="115.8" width="39.6" height="1.9" fill="#dc4b34"/>
<rect x="635.2" y="117.4" width="39.6" height="3.3" fill="#d33a2f"/>
<rect x="635.2" y="120.4" width="39.6" height="1.9" fill="#dc4b34"/>
<rect x="635.2" y="122.0" width="39.6" height="2.3" fill="#f08a55"/>
<rect x="635.2" y="124.0" width="39.6" height="2.8" fill="#d33a2f"/>
<rect x="635.2" y="126.5" width="39.6" height="3.8" fill="#d33a2f"/>
<rect x="635.2" y="130.0" width="39.6" height="1.3" fill="#f08a55"/>
<rect x="635.2" y="131" width="39.6" height="4.3" fill="#c4e1ea"/>
<rect x="635.2" y="135" width="39.6" height="4.8" fill="#e6f2de"/>
<rect x="635.2" y="139.5" width="39.6" height="2.8" fill="#e9683f"/>
<rect x="635.2" y="142.0" width="39.6" height="2.8" fill="#e9683f"/>
<rect x="635.2" y="144.5" width="39.6" height="2.8" fill="#e9683f"/>
<rect x="635.2" y="147.0" width="39.6" height="1.5" fill="#f08a55"/>
<rect x="635.2" y="148.2" width="39.6" height="1.9" fill="#e9683f"/>
<rect x="635.2" y="149.8" width="39.6" height="0.5" fill="#e9683f"/>
<rect x="635.2" y="150" width="39.6" height="2.3" fill="#e9683f"/>
<rect x="635.2" y="152" width="39.6" height="6.3" fill="#f4ae6f"/>
<rect x="635.2" y="158.0" width="39.6" height="2.3" fill="#dcefef"/>
<rect x="635.2" y="160.0" width="39.6" height="2.3" fill="#dcefef"/>
<rect x="635.2" y="162.0" width="39.6" height="3.3" fill="#cde6ee"/>
<rect x="635.2" y="165.0" width="39.6" height="2.3" fill="#dcefef"/>
<rect x="635.2" y="167.0" width="39.6" height="2.3" fill="#dcefef"/>
<rect x="635.2" y="169.0" width="39.6" height="1.5" fill="#cde6ee"/>
<rect x="635.2" y="170.2" width="39.6" height="1.5" fill="#cde6ee"/>
<rect x="635.2" y="171.4" width="39.6" height="1.5" fill="#dcefef"/>
<rect x="635.2" y="172.6" width="39.6" height="3.8" fill="#dcefef"/>
<rect x="635.2" y="176.1" width="39.6" height="2.8" fill="#dcefef"/>
<rect x="635.2" y="178.6" width="39.6" height="2.8" fill="#dcefef"/>
<rect x="635.2" y="181.1" width="39.6" height="1.9" fill="#dcefef"/>
<rect x="635.2" y="182.7" width="39.6" height="1.9" fill="#cde6ee"/>
<rect x="635.2" y="184.3" width="39.6" height="3.8" fill="#dcefef"/>
<rect x="635.2" y="187.8" width="39.6" height="3.8" fill="#cde6ee"/>
<rect x="635.2" y="191.3" width="39.6" height="1.0" fill="#cde6ee"/>
<rect x="635.2" y="192.0" width="39.6" height="2.3" fill="#d33a2f"/>
<rect x="635.2" y="194.0" width="39.6" height="2.3" fill="#d33a2f"/>
<rect x="635.2" y="196.0" width="39.6" height="3.3" fill="#cde6ee"/>
<rect x="635.2" y="199.0" width="39.6" height="3.3" fill="#cde6ee"/>
<rect x="635.2" y="202.0" width="39.6" height="2.8" fill="#cde6ee"/>
<rect x="635.2" y="204.5" width="39.6" height="1.9" fill="#dcefef"/>
<rect x="635.2" y="206.1" width="39.6" height="1.5" fill="#cde6ee"/>
<rect x="635.2" y="207.3" width="39.6" height="2.8" fill="#dcefef"/>
<rect x="635.2" y="209.8" width="39.6" height="1.9" fill="#dcefef"/>
<rect x="635.2" y="211.4" width="39.6" height="0.9" fill="#cde6ee"/>
<rect x="635.2" y="212" width="39.6" height="3.3" fill="#e9683f"/>
<rect x="635.2" y="215.0" width="39.6" height="2.3" fill="#c4e1ea"/>
<rect x="635.2" y="217.0" width="39.6" height="1.5" fill="#cde6ee"/>
<rect x="635.2" y="218.2" width="39.6" height="1.5" fill="#dcefef"/>
<rect x="635.2" y="219.4" width="39.6" height="2.8" fill="#c4e1ea"/>
<rect x="635.2" y="221.9" width="39.6" height="2.8" fill="#cde6ee"/>
<rect x="635.2" y="224.4" width="39.6" height="1.9" fill="#cde6ee"/>
<rect x="635.2" y="226.0" width="39.6" height="2.8" fill="#dcefef"/>
<rect x="635.2" y="228.5" width="39.6" height="3.3" fill="#c4e1ea"/>
<rect x="635.2" y="231.5" width="39.6" height="1.9" fill="#c4e1ea"/>
<rect x="635.2" y="233.1" width="39.6" height="3.3" fill="#c4e1ea"/>
<rect x="635.2" y="236.1" width="39.6" height="1.5" fill="#dcefef"/>
<rect x="635.2" y="237.3" width="39.6" height="2.3" fill="#dcefef"/>
<rect x="635.2" y="239.3" width="39.6" height="3.3" fill="#dcefef"/>
<rect x="635.2" y="242.3" width="39.6" height="2.3" fill="#dcefef"/>
<rect x="635.2" y="244.3" width="39.6" height="3.8" fill="#dcefef"/>
<rect x="635.2" y="247.8" width="39.6" height="1.9" fill="#dcefef"/>
<rect x="635.2" y="249.4" width="39.6" height="1.9" fill="#cde6ee"/>
<rect x="635.2" y="251.0" width="39.6" height="1.9" fill="#cde6ee"/>
<rect x="635.2" y="252.6" width="39.6" height="1.9" fill="#dcefef"/>
<rect x="635.2" y="254.2" width="39.6" height="1.1" fill="#cde6ee"/>
<rect x="635.2" y="255" width="39.6" height="1.8" fill="#f08a55"/>
<rect x="635.2" y="256.5" width="39.6" height="2.3" fill="#cde6ee"/>
<rect x="635.2" y="258.5" width="39.6" height="2.8" fill="#c4e1ea"/>
<rect x="635.2" y="261.0" width="39.6" height="1.9" fill="#cde6ee"/>
<rect x="635.2" y="262.6" width="39.6" height="3.8" fill="#cde6ee"/>
<rect x="635.2" y="266.1" width="39.6" height="3.8" fill="#c4e1ea"/>
<rect x="635.2" y="269.6" width="39.6" height="1.5" fill="#cde6ee"/>
<rect x="635.2" y="270.8" width="39.6" height="1.5" fill="#c4e1ea"/>
<rect x="635.2" y="272.0" width="39.6" height="0.7" fill="#c4e1ea"/>
<rect x="551.6" y="29.5" width="6" height="243" fill="#808080"/>
<rect x="438.3" y="54.3" width="236.5" height="29.5" fill="none" stroke="#000" stroke-width="2.6"/>
<text transform="translate(473.0,282) rotate(-45)" font-size="12.2" text-anchor="end" fill="#111">early +Fe</text>
<text transform="translate(511.0,282) rotate(-45)" font-size="12.2" text-anchor="end" fill="#111">middle +Fe</text>
<text transform="translate(549.0,282) rotate(-45)" font-size="12.2" text-anchor="end" fill="#111">late +Fe</text>
<text transform="translate(587.0,282) rotate(-45)" font-size="12.2" text-anchor="end" fill="#111">early -Fe</text>
<text transform="translate(625.0,282) rotate(-45)" font-size="12.2" text-anchor="end" fill="#111">middle -Fe</text>
<text transform="translate(663.0,282) rotate(-45)" font-size="12.2" text-anchor="end" fill="#111">late -Fe</text>
<text x="393.5" y="197.8" font-size="10.5" font-weight="bold" text-anchor="middle" fill="#333">Color Key</text>
<text x="393.5" y="210.5" font-size="10.5" font-weight="bold" text-anchor="middle" fill="#333">and Histogram</text>
<rect x="353.6" y="211" width="80" height="61.4" fill="url(#zk)"/>
<path d="M353.6,272 L369,272 Q371,271 373.4,264 L376.9,224 L378.5,212.5 L386.6,212.5 L387.5,240 Q388,256 393.5,264 Q398,267 405,267 L412,266.8 Q422,265 429.6,262 L431,252 L432.7,242" fill="none" stroke="#5ae8dc" stroke-width="2"/>
<line x1="353.6" y1="211" x2="353.6" y2="272.4" stroke="#222" stroke-width="1"/>
<line x1="353.6" y1="272.4" x2="433.6" y2="272.4" stroke="#222" stroke-width="1"/>
<line x1="349" y1="225" x2="353.6" y2="225" stroke="#222" stroke-width="1"/>
<line x1="349" y1="241" x2="353.6" y2="241" stroke="#222" stroke-width="1"/>
<line x1="349" y1="256.4" x2="353.6" y2="256.4" stroke="#222" stroke-width="1"/>
<line x1="349" y1="272" x2="353.6" y2="272" stroke="#222" stroke-width="1"/>
<line x1="355" y1="272.4" x2="355" y2="277" stroke="#222" stroke-width="1"/>
<line x1="374.3" y1="272.4" x2="374.3" y2="277" stroke="#222" stroke-width="1"/>
<line x1="393.6" y1="272.4" x2="393.6" y2="277" stroke="#222" stroke-width="1"/>
<line x1="413" y1="272.4" x2="413" y2="277" stroke="#222" stroke-width="1"/>
<line x1="432.4" y1="272.4" x2="432.4" y2="277" stroke="#222" stroke-width="1"/>
<text x="355" y="292.3" font-size="10" text-anchor="middle" fill="#7a7a7a">-2</text>
<text x="374.3" y="292.3" font-size="10" text-anchor="middle" fill="#7a7a7a">-1</text>
<text x="393.6" y="292.3" font-size="10" text-anchor="middle" fill="#7a7a7a">0</text>
<text x="413" y="292.3" font-size="10" text-anchor="middle" fill="#7a7a7a">1</text>
<text x="432.4" y="292.3" font-size="10" text-anchor="middle" fill="#7a7a7a">2</text>
<text transform="translate(342,240.8) rotate(-90)" font-size="9.5" text-anchor="middle" fill="#777">400</text>
<text transform="translate(342,272.2) rotate(-90)" font-size="9.5" text-anchor="middle" fill="#777">0</text>
<g clip-path="url(#cntclip)"><text transform="translate(329.8,241) rotate(-90)" font-size="11" font-weight="bold" text-anchor="middle" fill="#222">Count</text></g>
<text x="394" y="303" font-size="12" font-weight="bold" text-anchor="middle" fill="#111">Row Z-</text>
<text x="394" y="316" font-size="12" font-weight="bold" text-anchor="middle" fill="#111">score</text>
<path d="M192,633 C155,600 120,530 139,451" fill="none" stroke="#4a9acb" stroke-width="3"/>
<line x1="122" y1="441.5" x2="157" y2="458" stroke="#4a9acb" stroke-width="3.8"/>
<path d="M173.4,438.4 Q184,520 197,607" fill="none" stroke="#4a9acb" stroke-width="3"/>
<line x1="196" y1="605" x2="216" y2="609" stroke="#4a9acb" stroke-width="3.8"/>
<line x1="280.7" y1="482.2" x2="217.4" y2="612.5" stroke="#4a9acb" stroke-width="3"/>
<path d="M177.6,615.5 Q186,611 197,609.6 L214,611 Q224,614 231.6,621.3" fill="none" stroke="#4a9acb" stroke-width="3.6" stroke-linejoin="round"/>
<line x1="62.9" y1="526.3" x2="177.6" y2="621.3" stroke="#4a9acb" stroke-width="3"/>
<line x1="165" y1="638.2" x2="190" y2="607.3" stroke="#4a9acb" stroke-width="4"/>
<line x1="214" y1="635.3" x2="266" y2="593.5" stroke="#4a9acb" stroke-width="3"/>
<line x1="253.2" y1="577.4" x2="279.8" y2="609" stroke="#4a9acb" stroke-width="4"/>
<path d="M289,588.6 Q286,641 236.8,641.7" fill="none" stroke="#4a9acb" stroke-width="3"/>
<line x1="234.7" y1="621.3" x2="236.8" y2="661.6" stroke="#4a9acb" stroke-width="4"/>
<line x1="134.4" y1="425" x2="77.1" y2="478.2" stroke="#d9533f" stroke-width="2.5"/>
<path d="M66.0,488.5 Q72.8,480.5 75.3,470.6 L78.0,477.4 L84.6,480.6 Q74.5,482.3 66.0,488.5Z" fill="#d9533f"/>
<path d="M64,494.6 Q157,438 262.3,452.8" fill="none" stroke="#d9533f" stroke-width="2.5"/>
<path d="M262.3,452.8 Q251.8,452.6 242.5,456.9 L246.1,450.5 L244.4,443.4 Q252.1,450.1 262.3,452.8Z" fill="#d9533f"/>
<line x1="267.4" y1="464" x2="87.0" y2="500.8" stroke="#d9533f" stroke-width="2.5"/>
<path d="M72.1,503.8 Q82.1,500.5 89.4,493.3 L88.1,500.5 L92.1,506.7 Q82.6,502.9 72.1,503.8Z" fill="#d9533f"/>
<path d="M88,607 Q175,487.5 262,466" fill="none" stroke="#d9533f" stroke-width="2.5"/>
<path d="M262.0,466.0 Q252.1,469.7 245.2,477.2 L246.1,469.9 L241.9,464.0 Q251.6,467.3 262.0,466.0Z" fill="#d9533f"/>
<line x1="271" y1="474" x2="106.0" y2="597.8" stroke="#d9533f" stroke-width="2.5"/>
<path d="M93.8,606.9 Q101.4,599.7 104.9,590.1 L106.9,597.1 L113.1,600.9 Q102.9,601.6 93.8,606.9Z" fill="#d9533f"/>
<line x1="149.8" y1="436.3" x2="93.1" y2="585.5" stroke="#d9533f" stroke-width="2.5"/>
<path d="M87.7,599.7 Q90.3,589.5 88.1,579.5 L93.5,584.4 L100.8,584.4 Q92.6,590.4 87.7,599.7Z" fill="#d9533f"/>
<line x1="50.9" y1="534.3" x2="66.8" y2="586.2" stroke="#d9533f" stroke-width="2.5"/>
<path d="M71.3,600.7 Q67.1,591.1 59.2,584.5 L66.5,585.1 L72.2,580.5 Q69.4,590.4 71.3,600.7Z" fill="#d9533f"/>
<path d="M66.2,611 C20,600 13,560 31.5,538.4" fill="none" stroke="#d9533f" stroke-width="2.5"/>
<path d="M31.5,538.4 Q25.6,547.1 24.3,557.3 L20.9,550.8 L14.0,548.4 Q23.8,545.5 31.5,538.4Z" fill="#d9533f"/>
<line x1="275.5" y1="479.6" x2="145.3" y2="639.0" stroke="#d9533f" stroke-width="2.5"/>
<path d="M135.7,650.8 Q141.4,641.9 142.5,631.8 L146.0,638.1 L153.0,640.4 Q143.3,643.5 135.7,650.8Z" fill="#d9533f"/>
<line x1="206" y1="414.5" x2="252.0" y2="438.1" stroke="#d9533f" stroke-width="2.5" stroke-dasharray="11,5,3,5"/>
<path d="M265.5,445.0 Q255.6,441.3 245.5,442.4 L251.0,437.5 L251.7,430.3 Q256.8,439.1 265.5,445.0Z" fill="#d9533f"/>
<path d="M194,430 Q245,492 280,547" fill="none" stroke="#d9533f" stroke-width="2.5" stroke-dasharray="11,5,3,5"/>
<path d="M280.0,547.0 Q273.4,538.8 264.1,534.6 L271.2,533.2 L275.5,527.3 Q275.4,537.5 280.0,547.0Z" fill="#d9533f"/>
<line x1="295" y1="549" x2="293.5" y2="503.2" stroke="#d9533f" stroke-width="2.5" stroke-dasharray="11,5,3,5"/>
<path d="M293.0,488.0 Q294.6,498.4 300.4,506.8 L293.5,504.3 L286.8,507.2 Q292.1,498.5 293.0,488.0Z" fill="#d9533f"/>
<path d="M277,565 C230,548 170,515 165.5,443" fill="none" stroke="#d9533f" stroke-width="2.5" stroke-dasharray="11,5,3,5"/>
<path d="M165.5,443.0 Q167.4,453.4 173.5,461.5 L166.5,459.3 L159.9,462.4 Q164.9,453.5 165.5,443.0Z" fill="#d9533f"/>
<circle cx="167.4" cy="394" r="43.3" fill="#f1fa96" stroke="#111" stroke-width="1.5"/>
<text x="167.4" y="399.2" font-size="12" fill="#3a3a3a" text-anchor="middle">UK1</text>
<circle cx="292.3" cy="458.4" r="23.6" fill="#f1fa96" stroke="#111" stroke-width="4.6"/>
<text x="292.3" y="463.5" font-size="11.6" fill="#333" text-anchor="middle">DOF1.5</text>
<circle cx="43.5" cy="509.7" r="24.1" fill="#e0edfb" stroke="#111" stroke-width="1.5"/>
<text x="43.5" y="514.9" font-size="12" fill="#3a3a3a" text-anchor="middle">DAG1</text>
<circle cx="296.4" cy="568.9" r="19.6" fill="#f1fa96" stroke="#111" stroke-width="1.5"/>
<text x="296.4" y="574.0" font-size="11.7" fill="#222" text-anchor="middle">MYB63</text>
<circle cx="78.5" cy="620" r="14" fill="#e0edfb" stroke="#111" stroke-width="1.5"/>
<text x="78.5" y="624.8" font-size="12.1" fill="#3a3a3a" text-anchor="middle">UNE12</text>
<circle cx="202.2" cy="644.7" r="14.3" fill="#e0edfb" stroke="#111" stroke-width="1.5"/>
<text x="202.2" y="648.9" font-size="11.7" fill="#3a3a3a" text-anchor="middle">FIT</text>
<circle cx="121.6" cy="668.4" r="14.2" fill="#e0edfb" stroke="#111" stroke-width="1.5"/>
<text x="121.6" y="672.7" font-size="11.6" fill="#3a3a3a" text-anchor="middle">UK2</text>
<rect x="285.1" y="661.8" width="44" height="15.6" fill="url(#lg)"/>
<text x="279.8" y="689.6" style="font-family:Liberation Mono,monospace;letter-spacing:-1.2px" font-size="11" text-anchor="middle" fill="#222">-1</text>
<text x="303.8" y="689.6" font-size="11.2" text-anchor="middle" fill="#222">0</text>
<text x="326.4" y="689.6" style="font-family:Liberation Mono,monospace" font-size="11" text-anchor="middle" fill="#222">1</text>
<line x1="469.7" y1="400.2" x2="411.7" y2="450.5" stroke="#d9533f" stroke-width="2.5"/>
<path d="M400.2,460.5 Q407.3,452.7 410.1,442.9 L412.5,449.8 L419.0,453.2 Q408.9,454.6 400.2,460.5Z" fill="#d9533f"/>
<path d="M398.2,464.6 Q497,392.5 596,434.2" fill="none" stroke="#d9533f" stroke-width="2.5"/>
<path d="M596.0,434.2 Q585.9,431.3 575.9,433.1 L580.9,427.9 L581.1,420.6 Q586.8,429.0 596.0,434.2Z" fill="#d9533f"/>
<line x1="598.1" y1="455.6" x2="424.5" y2="479.9" stroke="#d9533f" stroke-width="2.5"/>
<path d="M409.4,482.0 Q419.6,479.3 427.3,472.6 L425.6,479.7 L429.2,486.1 Q419.9,481.8 409.4,482.0Z" fill="#d9533f"/>
<path d="M405.3,484 Q540,490 592,558.7" fill="none" stroke="#d9533f" stroke-width="2.5"/>
<path d="M592.0,558.7 Q584.7,551.1 575.1,547.7 L582.1,545.7 L586.0,539.4 Q586.7,549.6 592.0,558.7Z" fill="#d9533f"/>
<line x1="588" y1="578" x2="422.4" y2="509.2" stroke="#d9533f" stroke-width="2.5"/>
<path d="M408.4,503.4 Q418.5,506.3 428.6,504.4 L423.5,509.7 L423.3,517.0 Q417.6,508.5 408.4,503.4Z" fill="#d9533f"/>
<line x1="484" y1="411.5" x2="416.1" y2="592.7" stroke="#d9533f" stroke-width="2.5"/>
<path d="M410.8,606.9 Q413.3,596.7 411.1,586.7 L416.5,591.6 L423.8,591.5 Q415.6,597.5 410.8,606.9Z" fill="#d9533f"/>
<line x1="498.3" y1="412.5" x2="505.1" y2="645.8" stroke="#d9533f" stroke-width="2.5"/>
<path d="M505.5,661.0 Q504.0,650.6 498.2,642.2 L505.0,644.7 L511.7,641.8 Q506.4,650.5 505.5,661.0Z" fill="#d9533f"/>
<line x1="515.7" y1="409.4" x2="592.6" y2="545.5" stroke="#d9533f" stroke-width="2.5"/>
<path d="M600.1,558.7 Q593.9,550.2 584.8,545.5 L592.1,544.5 L596.7,538.8 Q596.0,549.0 600.1,558.7Z" fill="#d9533f"/>
<line x1="529.6" y1="394.3" x2="584.6" y2="423.1" stroke="#d9533f" stroke-width="2.5"/>
<path d="M598.1,430.1 Q588.3,426.3 578.1,427.3 L583.6,422.5 L584.4,415.3 Q589.4,424.2 598.1,430.1Z" fill="#d9533f"/>
<line x1="604.2" y1="473" x2="432.4" y2="602.5" stroke="#d9533f" stroke-width="4.6"/>
<path d="M419.6,612.1 Q427.6,604.4 431.1,594.1 L433.3,601.7 L440.1,606.1 Q429.2,606.6 419.6,612.1Z" fill="#d9533f"/>
<path d="M603.0,474.0 Q595.0,481.7 591.5,492.0 L589.3,484.4 L582.5,480.0 Q593.4,479.5 603.0,474.0Z" fill="#d9533f"/>
<line x1="630.8" y1="486.3" x2="626.1" y2="539.7" stroke="#d9533f" stroke-width="4.8"/>
<path d="M624.7,555.6 Q624.3,544.5 619.0,535.0 L626.2,538.5 L633.9,536.3 Q627.0,544.8 624.7,555.6Z" fill="#d9533f"/>
<line x1="615.5" y1="483.2" x2="522.4" y2="648.7" stroke="#d9533f" stroke-width="2.5"/>
<path d="M515.0,662.0 Q519.1,652.3 518.4,642.1 L523.0,647.8 L530.2,648.8 Q521.2,653.5 515.0,662.0Z" fill="#d9533f"/>
<line x1="594.2" y1="612.8" x2="530.4" y2="658.2" stroke="#d9533f" stroke-width="2.5"/>
<path d="M518.0,667.0 Q525.8,659.9 529.5,650.4 L531.3,657.5 L537.4,661.5 Q527.2,661.9 518.0,667.0Z" fill="#d9533f"/>
<line x1="391.5" y1="516.6" x2="487.2" y2="650.6" stroke="#d9533f" stroke-width="2.5"/>
<path d="M496.0,663.0 Q488.9,655.2 479.4,651.5 L486.5,649.7 L490.5,643.6 Q490.9,653.8 496.0,663.0Z" fill="#d9533f"/>
<path d="M494,670 C430,640 370,590 374,528" fill="none" stroke="#d9533f" stroke-width="2.5"/>
<path d="M374.0,528.0 Q374.5,538.5 379.6,547.4 L372.9,544.3 L366.0,546.5 Q372.1,538.3 374.0,528.0Z" fill="#d9533f"/>
<line x1="377.5" y1="521.9" x2="394.2" y2="592.1" stroke="#d9533f" stroke-width="2.5"/>
<path d="M397.7,606.9 Q394.1,597.0 386.7,590.0 L393.9,591.0 L399.9,586.8 Q396.5,596.5 397.7,606.9Z" fill="#d9533f"/>
<path d="M412,603 Q475.5,487 596.5,455" fill="none" stroke="#d9533f" stroke-width="2.5" stroke-dasharray="11,5,3,5"/>
<path d="M596.5,455.0 Q586.7,458.9 579.9,466.4 L580.7,459.2 L576.4,453.3 Q586.1,456.5 596.5,455.0Z" fill="#d9533f"/>
<path d="M412.0,603.0 Q415.9,593.2 415.2,583.1 L419.8,588.7 L427.1,589.6 Q418.1,594.4 412.0,603.0Z" fill="#d9533f"/>
<line x1="586.9" y1="598.2" x2="439.0" y2="621.6" stroke="#d9533f" stroke-width="2.5" stroke-dasharray="11,5,3,5"/>
<path d="M424.0,624.0 Q434.1,621.2 441.7,614.3 L440.1,621.4 L443.8,627.7 Q434.5,623.6 424.0,624.0Z" fill="#d9533f"/>
<path d="M414,618 Q500,560 588,578" fill="none" stroke="#d9533f" stroke-width="2.5" stroke-dasharray="11,5,3,5"/>
<path d="M588.0,578.0 Q577.5,577.1 568.0,580.9 L572.0,574.7 L570.7,567.5 Q578.0,574.7 588.0,578.0Z" fill="#d9533f"/>
<path d="M603,480 C570,500 570,530 595,562" fill="none" stroke="#d9533f" stroke-width="2.5" stroke-dasharray="11,5,3,5"/>
<path d="M595.0,562.0 Q587.6,554.5 577.9,551.2 L584.9,549.1 L588.7,542.8 Q589.5,553.0 595.0,562.0Z" fill="#d9533f"/>
<circle cx="497.5" cy="377" r="35" fill="#f0c690" stroke="#111" stroke-width="1.5"/>
<text x="497.5" y="381.6" font-size="10.2" fill="#3a2818" stroke="#3a2818" stroke-width="0.3" text-anchor="middle">HHO1</text>
<circle cx="635.3" cy="450" r="35.8" fill="#f1fa96" stroke="#111" stroke-width="3.6"/>
<text x="635.3" y="454.6" font-size="10.2" fill="#333" text-anchor="middle">DOF1.5</text>
<circle cx="369.4" cy="486.9" r="34.5" fill="#f0c690" stroke="#111" stroke-width="1.5"/>
<text x="369.4" y="491.4" font-size="10" fill="#4a2e18" stroke="#4a2e18" stroke-width="0.35" text-anchor="middle">CCA1</text>
<circle cx="620.5" cy="593" r="33" fill="#f1fa96" stroke="#111" stroke-width="1.5"/>
<text x="620.5" y="597.8" font-size="10.9" fill="#333" text-anchor="middle">UK1</text>
<circle cx="402.4" cy="627" r="12" fill="#f1fa96" stroke="#111" stroke-width="1.5"/>
<text x="402.4" y="631.6" font-size="10.3" fill="#222" text-anchor="middle">MYB63</text>
<circle cx="506.2" cy="675.7" r="12" fill="#f0c690" stroke="#111" stroke-width="1.5"/>
<text x="506.2" y="680.2" font-size="10" fill="#222" text-anchor="middle">WRKY21</text>
<rect x="21.2" y="720.9" width="308.8" height="177.70000000000005" fill="#f2f2f2"/>
<rect x="21.2" y="704.5" width="308.8" height="16.399999999999977" fill="#dce6f2"/>
<text x="96.5" y="718" font-size="13.6" font-weight="bold" text-anchor="middle" fill="#111">Gene (+Fe GRN)</text>
<text x="207" y="718" font-size="13.6" font-weight="bold" text-anchor="middle" fill="#111">Weight</text>
<text x="287.5" y="718" font-size="13.6" font-weight="bold" text-anchor="middle" fill="#111">Impact</text>
<text x="96.5" y="736.6" font-size="13.6" font-style="italic" text-anchor="middle" fill="#111" stroke="#111" stroke-width="0.22">UK1 (AT1G77250)</text>
<text x="207" y="736.6" font-size="13.6" text-anchor="middle" fill="#111" stroke="#111" stroke-width="0.22">2.00</text>
<text x="287.5" y="736.6" font-size="13.6" text-anchor="middle" fill="#111" stroke="#111" stroke-width="0.22">143.60</text>
<text x="96.5" y="753" font-size="13.6" font-style="italic" text-anchor="middle" fill="#111" stroke="#111" stroke-width="0.22">DOF1.5 (AT1G29160)</text>
<text x="207" y="753" font-size="13.6" text-anchor="middle" fill="#111" stroke="#111" stroke-width="0.22">1.93</text>
<text x="287.5" y="753" font-size="13.6" text-anchor="middle" fill="#111" stroke="#111" stroke-width="0.22">142.69</text>
<text x="96.5" y="770.4" font-size="13.6" font-style="italic" text-anchor="middle" fill="#111" stroke="#111" stroke-width="0.22">DAG1</text>
<text x="207" y="770.4" font-size="13.6" text-anchor="middle" fill="#111" stroke="#111" stroke-width="0.22">1.91</text>
<text x="287.5" y="770.4" font-size="13.6" text-anchor="middle" fill="#111" stroke="#111" stroke-width="0.22">142.35</text>
<text x="96.5" y="787.6" font-size="13.6" font-style="italic" text-anchor="middle" fill="#111" stroke="#111" stroke-width="0.22">MYB63</text>
<text x="207" y="787.6" font-size="13.6" text-anchor="middle" fill="#111" stroke="#111" stroke-width="0.22">1.41</text>
<text x="287.5" y="787.6" font-size="13.6" text-anchor="middle" fill="#111" stroke="#111" stroke-width="0.22">95.34</text>
<text x="96.5" y="805" font-size="13.6" font-style="italic" text-anchor="middle" fill="#111" stroke="#111" stroke-width="0.22">UNE12</text>
<text x="207" y="805" font-size="13.6" text-anchor="middle" fill="#111" stroke="#111" stroke-width="0.22">1.01</text>
<text x="287.5" y="805" font-size="13.6" text-anchor="middle" fill="#111" stroke="#111" stroke-width="0.22">8.19</text>
<text x="96.5" y="821.9" font-size="13.6" font-style="italic" text-anchor="middle" fill="#111" stroke="#111" stroke-width="0.22">FIT1 (FRU)</text>
<text x="207" y="821.9" font-size="13.6" text-anchor="middle" fill="#111" stroke="#111" stroke-width="0.22">1.01</text>
<text x="287.5" y="821.9" font-size="13.6" text-anchor="middle" fill="#111" stroke="#111" stroke-width="0.22">7.13</text>
<text x="96.5" y="839.2" font-size="13.6" font-style="italic" text-anchor="middle" fill="#111" stroke="#111" stroke-width="0.22">UK2 (AT5G46710)</text>
<text x="207" y="839.2" font-size="13.6" text-anchor="middle" fill="#111" stroke="#111" stroke-width="0.22">1.01</text>
<text x="287.5" y="839.2" font-size="13.6" text-anchor="middle" fill="#111" stroke="#111" stroke-width="0.22">1.19</text>
<text x="96.5" y="856.8" font-size="13.6" font-style="italic" text-anchor="middle" fill="#111" stroke="#111" stroke-width="0.22">CCA1</text>
<text x="207" y="856.8" font-size="13.6" text-anchor="middle" fill="#111" stroke="#111" stroke-width="0.22">1.00</text>
<text x="287.5" y="856.8" font-size="13.6" text-anchor="middle" fill="#111" stroke="#111" stroke-width="0.22">0.36</text>
<text x="96.5" y="873.8" font-size="13.6" font-style="italic" text-anchor="middle" fill="#111" stroke="#111" stroke-width="0.22">WRKY21</text>
<text x="207" y="873.8" font-size="13.6" text-anchor="middle" fill="#111" stroke="#111" stroke-width="0.22">1.00</text>
<text x="287.5" y="873.8" font-size="13.6" text-anchor="middle" fill="#111" stroke="#111" stroke-width="0.22">0.36</text>
<text x="96.5" y="894.5" font-size="13.6" font-style="italic" text-anchor="middle" fill="#111" stroke="#111" stroke-width="0.22">HHO1 (AT3G25790)</text>
<text x="207" y="894.5" font-size="13.6" text-anchor="middle" fill="#111" stroke="#111" stroke-width="0.22">1.00</text>
<text x="287.5" y="894.5" font-size="13.6" text-anchor="middle" fill="#111" stroke="#111" stroke-width="0.22">0.36</text>
<rect x="355.4" y="721.8" width="308.6" height="177.20000000000005" fill="#f2f2f2"/>
<rect x="355.4" y="704.5" width="308.6" height="17.299999999999955" fill="#edc8a6"/>
<text x="429.5" y="718.8" font-size="14" font-weight="bold" text-anchor="middle" fill="#111">Gene (-Fe GRN)</text>
<text x="540" y="718.8" font-size="14" font-weight="bold" text-anchor="middle" fill="#111">Weight</text>
<text x="620.6" y="718.8" font-size="14" font-weight="bold" text-anchor="middle" fill="#111">Impact</text>
<text x="429.5" y="736.6" font-size="13.6" font-style="italic" text-anchor="middle" fill="#111" stroke="#111" stroke-width="0.22">HHO1 (AT3G25790)</text>
<text x="540" y="736.6" font-size="13.6" text-anchor="middle" fill="#111" stroke="#111" stroke-width="0.22">2.00</text>
<text x="620.6" y="736.6" font-size="13.6" text-anchor="middle" fill="#111" stroke="#111" stroke-width="0.22">143.01</text>
<text x="429.5" y="754.2" font-size="13.6" font-style="italic" text-anchor="middle" fill="#111" stroke="#111" stroke-width="0.22">DOF1.5 (AT1G29160)</text>
<text x="540" y="754.2" font-size="13.6" text-anchor="middle" fill="#111" stroke="#111" stroke-width="0.22">2.00</text>
<text x="620.6" y="754.2" font-size="13.6" text-anchor="middle" fill="#111" stroke="#111" stroke-width="0.22">141.31</text>
<text x="429.5" y="771.8" font-size="13.6" font-style="italic" text-anchor="middle" fill="#111" stroke="#111" stroke-width="0.22">CCA1</text>
<text x="540" y="771.8" font-size="13.6" text-anchor="middle" fill="#111" stroke="#111" stroke-width="0.22">1.99</text>
<text x="620.6" y="771.8" font-size="13.6" text-anchor="middle" fill="#111" stroke="#111" stroke-width="0.22">141.30</text>
<text x="429.5" y="789.1" font-size="13.6" font-style="italic" text-anchor="middle" fill="#111" stroke="#111" stroke-width="0.22">UK1 (AT1G77250)</text>
<text x="540" y="789.1" font-size="13.6" text-anchor="middle" fill="#111" stroke="#111" stroke-width="0.22">1.98</text>
<text x="620.6" y="789.1" font-size="13.6" text-anchor="middle" fill="#111" stroke="#111" stroke-width="0.22">141.23</text>
<text x="429.5" y="806.7" font-size="13.6" font-style="italic" text-anchor="middle" fill="#111" stroke="#111" stroke-width="0.22">MYB63</text>
<text x="540" y="806.7" font-size="13.6" text-anchor="middle" fill="#111" stroke="#111" stroke-width="0.22">1.04</text>
<text x="620.6" y="806.7" font-size="13.6" text-anchor="middle" fill="#111" stroke="#111" stroke-width="0.22">14.14</text>
<text x="429.5" y="824.6" font-size="13.6" font-style="italic" text-anchor="middle" fill="#111" stroke="#111" stroke-width="0.22">WRKY21</text>
<text x="540" y="824.6" font-size="13.6" text-anchor="middle" fill="#111" stroke="#111" stroke-width="0.22">1.01</text>
<text x="620.6" y="824.6" font-size="13.6" text-anchor="middle" fill="#111" stroke="#111" stroke-width="0.22">4.35</text>
<text x="429.5" y="842.6" font-size="13.6" font-style="italic" text-anchor="middle" fill="#111" stroke="#111" stroke-width="0.22">UK2 (AT5G46710)</text>
<text x="540" y="842.6" font-size="13.6" text-anchor="middle" fill="#111" stroke="#111" stroke-width="0.22">1.00</text>
<text x="620.6" y="842.6" font-size="13.6" text-anchor="middle" fill="#111" stroke="#111" stroke-width="0.22">0.34</text>
<text x="429.5" y="860.2" font-size="13.6" font-style="italic" text-anchor="middle" fill="#111" stroke="#111" stroke-width="0.22">DAG1</text>
<text x="540" y="860.2" font-size="13.6" text-anchor="middle" fill="#111" stroke="#111" stroke-width="0.22">1.00</text>
<text x="620.6" y="860.2" font-size="13.6" text-anchor="middle" fill="#111" stroke="#111" stroke-width="0.22">0.34</text>
<text x="429.5" y="877.8" font-size="13.6" font-style="italic" text-anchor="middle" fill="#111" stroke="#111" stroke-width="0.22">FIT1 (FRU)</text>
<text x="540" y="877.8" font-size="13.6" text-anchor="middle" fill="#111" stroke="#111" stroke-width="0.22">1.00</text>
<text x="620.6" y="877.8" font-size="13.6" text-anchor="middle" fill="#111" stroke="#111" stroke-width="0.22">0.34</text>
<text x="429.5" y="894.5" font-size="13.6" font-style="italic" text-anchor="middle" fill="#111" stroke="#111" stroke-width="0.22">UNE12</text>
<text x="540" y="894.5" font-size="13.6" text-anchor="middle" fill="#111" stroke="#111" stroke-width="0.22">1.00</text>
<text x="620.6" y="894.5" font-size="13.6" text-anchor="middle" fill="#111" stroke="#111" stroke-width="0.22">0.34</text>
<line x1="630.6" y1="851" x2="630.9" y2="857.3" stroke="#e02020" stroke-width="0.9"/>
</svg></body></html>
